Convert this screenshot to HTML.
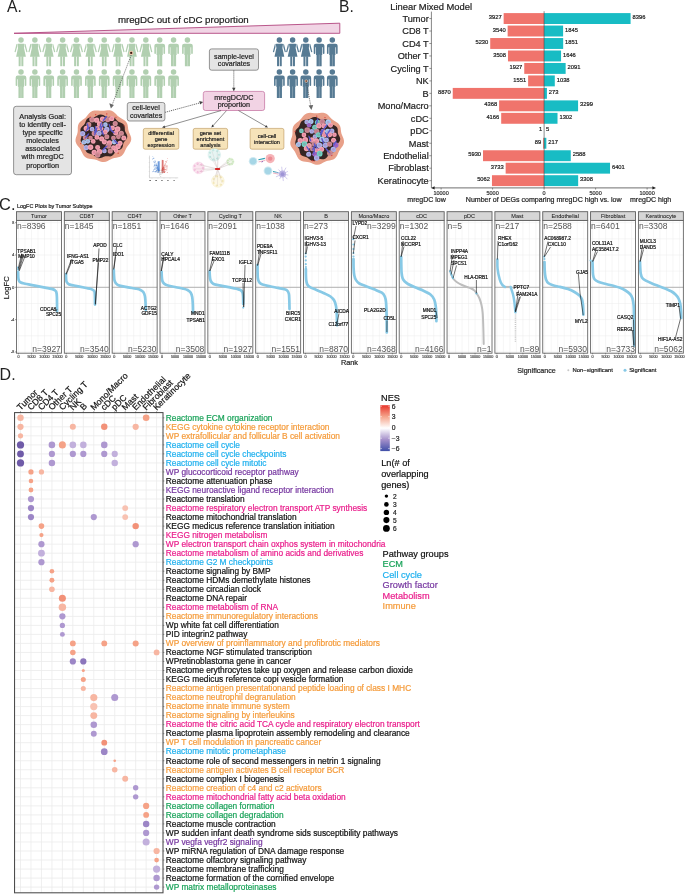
<!DOCTYPE html>
<html><head><meta charset="utf-8"><style>
html,body{margin:0;padding:0;background:#fff;width:685px;height:894px;overflow:hidden}
svg{display:block;will-change:transform}
text{font-family:"Liberation Sans",sans-serif;stroke:currentColor;stroke-width:0.2px}
</style></head><body>
<svg width="685" height="894" viewBox="0 0 685 894" font-family="Liberation Sans, sans-serif">
<defs>
<filter id="soft" x="-20%" y="-20%" width="140%" height="140%"><feGaussianBlur stdDeviation="0.6"/></filter>
<symbol id="fem" overflow="visible">
<circle cx="0" cy="2.75" r="2.75"/>
<path d="M-3.0,6.4 L3.0,6.4 Q3.6,6.4 3.6,7.0 L3.0,10.8 L4.9,19.4 L-4.9,19.4 L-3.0,10.8 L-3.6,7.0 Q-3.6,6.4 -3.0,6.4 Z"/>
<path d="M-3.9,6.5 L-4.6,6.9 L-6.5,14.6 L-5.4,14.9 L-3.9,9.6 Z"/>
<path d="M3.9,6.5 L4.6,6.9 L6.5,14.6 L5.4,14.9 L3.9,9.6 Z"/>
<rect x="-2.35" y="19.0" width="2.0" height="9.9"/>
<rect x="0.35" y="19.0" width="2.0" height="9.9"/>
</symbol>
<symbol id="mal" overflow="visible">
<circle cx="0" cy="2.75" r="2.75"/>
<path d="M-5.35,8.5 Q-5.35,6.4 -3.2,6.4 L3.2,6.4 Q5.35,6.4 5.35,8.5 L5.35,16.0 Q5.35,16.8 4.55,16.8 Q3.75,16.8 3.75,16.0 L3.75,10 L3.1,10 L3.1,17.6 L2.55,17.6 L2.55,28.9 L-2.55,28.9 L-2.55,17.6 L-3.1,17.6 L-3.1,10 L-3.75,10 L-3.75,16.0 Q-3.75,16.8 -4.55,16.8 Q-5.35,16.8 -5.35,16.0 Z"/>
<rect x="-0.22" y="17.2" width="0.44" height="11.8" fill="#fff" fill-opacity="0.55"/>
</symbol>
</defs>
<rect width="685" height="894" fill="#fff"/>
<text x="7.00" y="11.75" font-size="15.6" fill="#222" color="#222" text-anchor="start" style="stroke-width:0">A.</text>
<polygon points="14,33.3 339.8,23.2 339.8,33.3" fill="#f1d5e5" stroke="#b2467f" stroke-width="0.9" stroke-linejoin="round"/>
<text x="117.90" y="23.00" font-size="9.7" fill="#1a1a1a" color="#1a1a1a" text-anchor="start" >mregDC out of cDC proportion</text>
<use href="#fem" x="21.00" y="37.3" fill="#b1cfb0"/>
<use href="#mal" x="21.00" y="69.2" fill="#b1cfb0"/>
<use href="#fem" x="34.87" y="37.3" fill="#b1cfb0"/>
<use href="#mal" x="34.87" y="69.2" fill="#b1cfb0"/>
<use href="#fem" x="48.74" y="37.3" fill="#b1cfb0"/>
<use href="#mal" x="48.74" y="69.2" fill="#b1cfb0"/>
<use href="#fem" x="62.61" y="37.3" fill="#b1cfb0"/>
<use href="#mal" x="62.61" y="69.2" fill="#b1cfb0"/>
<use href="#fem" x="76.48" y="37.3" fill="#b1cfb0"/>
<use href="#mal" x="76.48" y="69.2" fill="#b1cfb0"/>
<use href="#fem" x="90.35" y="37.3" fill="#b1cfb0"/>
<use href="#mal" x="90.35" y="69.2" fill="#b1cfb0"/>
<use href="#fem" x="104.22" y="37.3" fill="#b1cfb0"/>
<use href="#mal" x="104.22" y="69.2" fill="#b1cfb0"/>
<use href="#fem" x="118.09" y="37.3" fill="#b1cfb0"/>
<use href="#mal" x="118.09" y="69.2" fill="#b1cfb0"/>
<use href="#fem" x="131.96" y="37.3" fill="#b1cfb0"/>
<use href="#mal" x="131.96" y="69.2" fill="#b1cfb0"/>
<use href="#fem" x="145.83" y="37.3" fill="#b1cfb0"/>
<use href="#mal" x="145.83" y="69.2" fill="#b1cfb0"/>
<use href="#mal" x="159.70" y="37.3" fill="#b1cfb0"/>
<use href="#mal" x="159.70" y="69.2" fill="#b1cfb0"/>
<use href="#mal" x="173.57" y="37.3" fill="#b1cfb0"/>
<use href="#mal" x="173.57" y="69.2" fill="#b1cfb0"/>
<use href="#mal" x="187.44" y="37.3" fill="#b1cfb0"/>
<use href="#fem" x="279.40" y="37.3" fill="#567a93"/>
<use href="#mal" x="279.40" y="69.2" fill="#567a93"/>
<use href="#fem" x="292.60" y="37.3" fill="#567a93"/>
<use href="#mal" x="292.60" y="69.2" fill="#567a93"/>
<use href="#fem" x="305.80" y="37.3" fill="#567a93"/>
<use href="#mal" x="305.80" y="69.2" fill="#567a93"/>
<use href="#mal" x="319.10" y="37.3" fill="#567a93"/>
<use href="#mal" x="319.10" y="69.2" fill="#567a93"/>
<use href="#mal" x="332.30" y="37.3" fill="#567a93"/>
<use href="#mal" x="332.30" y="69.2" fill="#567a93"/>
<circle cx="131.2" cy="52.9" r="2.2" fill="#f0cbb0"/><circle cx="131.2" cy="52.9" r="1.15" fill="#3e1a10"/>
<circle cx="306.2" cy="81.0" r="1.6" fill="#f0cbb0"/><circle cx="306.2" cy="81.0" r="0.85" fill="#5a2414"/>
<line x1="131.2" y1="55" x2="112.3" y2="104.5" stroke="#444" stroke-width="0.7" stroke-dasharray="1.2,1.0"/>
<polygon points="110.9,108.6 109.3,103.2 113.9,104.9" fill="#666"/>
<line x1="306.5" y1="83" x2="310.8" y2="106" stroke="#444" stroke-width="0.7" stroke-dasharray="1.2,1.0"/>
<polygon points="311.4,110 308.6,105.6 313.2,104.9" fill="#666"/>
<rect x="13.6" y="106.3" width="57.90" height="68.40" rx="2.6" fill="#e4e4e4" stroke="#6a6a6a" stroke-width="0.7"/>
<text x="42.60" y="118.60" font-size="7.3" fill="#222" color="#222" text-anchor="middle" >Analysis Goal:</text>
<text x="42.60" y="126.75" font-size="7.3" fill="#222" color="#222" text-anchor="middle" >to identify cell-</text>
<text x="42.60" y="134.90" font-size="7.3" fill="#222" color="#222" text-anchor="middle" >type specific</text>
<text x="42.60" y="143.05" font-size="7.3" fill="#222" color="#222" text-anchor="middle" >molecules</text>
<text x="42.60" y="151.20" font-size="7.3" fill="#222" color="#222" text-anchor="middle" >associated</text>
<text x="42.60" y="159.35" font-size="7.3" fill="#222" color="#222" text-anchor="middle" >with mregDC</text>
<text x="42.60" y="167.50" font-size="7.3" fill="#222" color="#222" text-anchor="middle" >proportion</text>
<rect x="209.4" y="48.9" width="49.10" height="21.30" rx="2.2" fill="#e4e4e4" stroke="#6a6a6a" stroke-width="0.7"/>
<text x="234.00" y="58.70" font-size="7.1" fill="#222" color="#222" text-anchor="middle" >sample-level</text>
<text x="234.00" y="66.20" font-size="7.1" fill="#222" color="#222" text-anchor="middle" >covariates</text>
<rect x="127.3" y="102.5" width="37.60" height="18.50" rx="2.2" fill="#e4e4e4" stroke="#6a6a6a" stroke-width="0.7"/>
<text x="146.10" y="110.00" font-size="7.1" fill="#222" color="#222" text-anchor="middle" >cell-level</text>
<text x="146.10" y="117.60" font-size="7.1" fill="#222" color="#222" text-anchor="middle" >covariates</text>
<line x1="233.8" y1="70.5" x2="233.8" y2="88.5" stroke="#333" stroke-width="0.75" stroke-dasharray="1.1,0.9"/>
<polygon points="233.8,91.4 232.1,87.8 235.5,87.8" fill="#444"/>
<line x1="165.2" y1="112.3" x2="199.8" y2="102.9" stroke="#333" stroke-width="0.75" stroke-dasharray="1.1,0.9"/>
<polygon points="203.2,102.0 199.2,101.1 200.2,104.6" fill="#444"/>
<rect x="203.3" y="91.4" width="61.30" height="19.10" rx="2.2" fill="#f2d3e4" stroke="#c26c9c" stroke-width="0.7"/>
<text x="233.90" y="99.90" font-size="7.2" fill="#222" color="#222" text-anchor="middle" >mregDC/DC</text>
<text x="233.90" y="107.30" font-size="7.2" fill="#222" color="#222" text-anchor="middle" >proportion</text>
<line x1="221.0" y1="110.6" x2="164.88" y2="126.77" stroke="#333" stroke-width="0.55"/>
<polygon points="162.0,127.6 164.52,125.52 165.24,128.02" fill="#333"/>
<line x1="226.5" y1="110.6" x2="213.30" y2="125.36" stroke="#333" stroke-width="0.55"/>
<polygon points="211.3,127.6 212.33,124.50 214.27,126.23" fill="#333"/>
<line x1="238.5" y1="110.6" x2="265.40" y2="126.10" stroke="#333" stroke-width="0.55"/>
<polygon points="268.0,127.6 264.75,127.23 266.05,124.98" fill="#333"/>
<rect x="143.3" y="128.4" width="35.50" height="20.80" rx="1.8" fill="#f6e3b9" stroke="#b99356" stroke-width="0.6"/>
<text x="161.05" y="134.70" font-size="5.6" fill="#222" color="#222" text-anchor="middle" >differential</text>
<text x="161.05" y="140.70" font-size="5.6" fill="#222" color="#222" text-anchor="middle" >gene</text>
<text x="161.05" y="146.70" font-size="5.6" fill="#222" color="#222" text-anchor="middle" >expression</text>
<rect x="193.2" y="128.4" width="34.40" height="20.80" rx="1.8" fill="#f6e3b9" stroke="#b99356" stroke-width="0.6"/>
<text x="210.40" y="134.70" font-size="5.6" fill="#222" color="#222" text-anchor="middle" >gene set</text>
<text x="210.40" y="140.70" font-size="5.6" fill="#222" color="#222" text-anchor="middle" >enrichment</text>
<text x="210.40" y="146.70" font-size="5.6" fill="#222" color="#222" text-anchor="middle" >analysis</text>
<rect x="250.1" y="128.4" width="33.80" height="20.80" rx="1.8" fill="#f6e3b9" stroke="#b99356" stroke-width="0.6"/>
<text x="267.00" y="137.60" font-size="5.6" fill="#222" color="#222" text-anchor="middle" >cell-cell</text>
<text x="267.00" y="143.60" font-size="5.6" fill="#222" color="#222" text-anchor="middle" >interaction</text>
<g stroke="#9a9a9a" stroke-width="0.35" fill="none"><line x1="149.5" y1="155.6" x2="149.5" y2="177.8"/><line x1="149.3" y1="177.8" x2="178.2" y2="177.8"/></g>
<line x1="148.7" y1="158.0" x2="149.5" y2="158.0" stroke="#aaa" stroke-width="0.3"/>
<line x1="152.0" y1="177.8" x2="152.0" y2="178.6" stroke="#aaa" stroke-width="0.3"/>
<line x1="148.7" y1="162.5" x2="149.5" y2="162.5" stroke="#aaa" stroke-width="0.3"/>
<line x1="158.0" y1="177.8" x2="158.0" y2="178.6" stroke="#aaa" stroke-width="0.3"/>
<line x1="148.7" y1="167.0" x2="149.5" y2="167.0" stroke="#aaa" stroke-width="0.3"/>
<line x1="164.0" y1="177.8" x2="164.0" y2="178.6" stroke="#aaa" stroke-width="0.3"/>
<line x1="148.7" y1="171.5" x2="149.5" y2="171.5" stroke="#aaa" stroke-width="0.3"/>
<line x1="170.0" y1="177.8" x2="170.0" y2="178.6" stroke="#aaa" stroke-width="0.3"/>
<line x1="148.7" y1="176.0" x2="149.5" y2="176.0" stroke="#aaa" stroke-width="0.3"/>
<line x1="176.0" y1="177.8" x2="176.0" y2="178.6" stroke="#aaa" stroke-width="0.3"/>
<circle cx="156.60" cy="168.42" r="0.34" fill="#4a82d0" opacity="0.8"/>
<circle cx="164.16" cy="168.78" r="0.34" fill="#d4504a" opacity="0.8"/>
<circle cx="154.62" cy="165.94" r="0.34" fill="#4a82d0" opacity="0.8"/>
<circle cx="162.56" cy="168.62" r="0.34" fill="#d4504a" opacity="0.8"/>
<circle cx="153.77" cy="169.56" r="0.34" fill="#4a82d0" opacity="0.8"/>
<circle cx="167.28" cy="172.25" r="0.34" fill="#d4504a" opacity="0.8"/>
<circle cx="157.22" cy="169.89" r="0.34" fill="#4a82d0" opacity="0.8"/>
<circle cx="167.15" cy="165.34" r="0.34" fill="#d4504a" opacity="0.8"/>
<circle cx="154.30" cy="162.39" r="0.34" fill="#4a82d0" opacity="0.8"/>
<circle cx="164.32" cy="168.26" r="0.34" fill="#d4504a" opacity="0.8"/>
<circle cx="156.72" cy="169.47" r="0.34" fill="#4a82d0" opacity="0.8"/>
<circle cx="163.08" cy="169.51" r="0.34" fill="#d4504a" opacity="0.8"/>
<circle cx="159.19" cy="172.49" r="0.34" fill="#4a82d0" opacity="0.8"/>
<circle cx="162.86" cy="169.03" r="0.34" fill="#d4504a" opacity="0.8"/>
<circle cx="155.48" cy="161.68" r="0.34" fill="#4a82d0" opacity="0.8"/>
<circle cx="164.37" cy="171.22" r="0.34" fill="#d4504a" opacity="0.8"/>
<circle cx="158.52" cy="171.95" r="0.34" fill="#4a82d0" opacity="0.8"/>
<circle cx="165.53" cy="171.52" r="0.34" fill="#d4504a" opacity="0.8"/>
<circle cx="158.66" cy="170.47" r="0.34" fill="#4a82d0" opacity="0.8"/>
<circle cx="163.22" cy="171.21" r="0.34" fill="#d4504a" opacity="0.8"/>
<circle cx="153.90" cy="162.12" r="0.34" fill="#4a82d0" opacity="0.8"/>
<circle cx="162.67" cy="168.44" r="0.34" fill="#d4504a" opacity="0.8"/>
<circle cx="153.95" cy="158.20" r="0.34" fill="#4a82d0" opacity="0.8"/>
<circle cx="165.74" cy="167.48" r="0.34" fill="#d4504a" opacity="0.8"/>
<circle cx="154.37" cy="168.93" r="0.34" fill="#4a82d0" opacity="0.8"/>
<circle cx="163.25" cy="167.47" r="0.34" fill="#d4504a" opacity="0.8"/>
<circle cx="155.05" cy="163.07" r="0.34" fill="#4a82d0" opacity="0.8"/>
<circle cx="162.87" cy="169.59" r="0.34" fill="#d4504a" opacity="0.8"/>
<circle cx="154.96" cy="164.65" r="0.34" fill="#4a82d0" opacity="0.8"/>
<circle cx="163.60" cy="167.36" r="0.34" fill="#d4504a" opacity="0.8"/>
<circle cx="154.93" cy="162.92" r="0.34" fill="#4a82d0" opacity="0.8"/>
<circle cx="164.56" cy="166.02" r="0.34" fill="#d4504a" opacity="0.8"/>
<circle cx="153.50" cy="166.04" r="0.34" fill="#4a82d0" opacity="0.8"/>
<circle cx="163.45" cy="168.65" r="0.34" fill="#d4504a" opacity="0.8"/>
<circle cx="158.87" cy="170.65" r="0.34" fill="#4a82d0" opacity="0.8"/>
<circle cx="162.19" cy="169.54" r="0.34" fill="#d4504a" opacity="0.8"/>
<circle cx="158.46" cy="171.76" r="0.34" fill="#4a82d0" opacity="0.8"/>
<circle cx="165.95" cy="169.58" r="0.34" fill="#d4504a" opacity="0.8"/>
<circle cx="154.87" cy="171.84" r="0.34" fill="#4a82d0" opacity="0.8"/>
<circle cx="163.23" cy="168.97" r="0.34" fill="#d4504a" opacity="0.8"/>
<circle cx="152.84" cy="171.87" r="0.34" fill="#4a82d0" opacity="0.8"/>
<circle cx="163.23" cy="168.71" r="0.34" fill="#d4504a" opacity="0.8"/>
<circle cx="156.94" cy="167.22" r="0.34" fill="#4a82d0" opacity="0.8"/>
<circle cx="162.81" cy="167.89" r="0.34" fill="#d4504a" opacity="0.8"/>
<circle cx="157.01" cy="171.33" r="0.34" fill="#4a82d0" opacity="0.8"/>
<circle cx="164.93" cy="171.69" r="0.34" fill="#d4504a" opacity="0.8"/>
<circle cx="152.57" cy="159.42" r="0.34" fill="#4a82d0" opacity="0.8"/>
<circle cx="166.71" cy="161.19" r="0.34" fill="#d4504a" opacity="0.8"/>
<circle cx="156.92" cy="165.76" r="0.34" fill="#4a82d0" opacity="0.8"/>
<circle cx="162.40" cy="172.43" r="0.34" fill="#d4504a" opacity="0.8"/>
<circle cx="157.39" cy="169.85" r="0.34" fill="#4a82d0" opacity="0.8"/>
<circle cx="167.34" cy="158.32" r="0.34" fill="#d4504a" opacity="0.8"/>
<circle cx="157.37" cy="172.27" r="0.34" fill="#4a82d0" opacity="0.8"/>
<circle cx="163.46" cy="169.51" r="0.34" fill="#d4504a" opacity="0.8"/>
<circle cx="155.27" cy="172.49" r="0.34" fill="#4a82d0" opacity="0.8"/>
<circle cx="163.97" cy="170.74" r="0.34" fill="#d4504a" opacity="0.8"/>
<circle cx="158.01" cy="170.76" r="0.34" fill="#4a82d0" opacity="0.8"/>
<circle cx="162.32" cy="170.42" r="0.34" fill="#d4504a" opacity="0.8"/>
<circle cx="158.53" cy="171.96" r="0.34" fill="#4a82d0" opacity="0.8"/>
<circle cx="162.73" cy="171.91" r="0.34" fill="#d4504a" opacity="0.8"/>
<circle cx="157.33" cy="168.09" r="0.34" fill="#4a82d0" opacity="0.8"/>
<circle cx="163.53" cy="166.94" r="0.34" fill="#d4504a" opacity="0.8"/>
<circle cx="159.11" cy="172.11" r="0.34" fill="#4a82d0" opacity="0.8"/>
<circle cx="164.55" cy="170.26" r="0.34" fill="#d4504a" opacity="0.8"/>
<circle cx="156.03" cy="170.97" r="0.34" fill="#4a82d0" opacity="0.8"/>
<circle cx="162.91" cy="167.96" r="0.34" fill="#d4504a" opacity="0.8"/>
<circle cx="156.63" cy="165.65" r="0.34" fill="#4a82d0" opacity="0.8"/>
<circle cx="164.21" cy="169.72" r="0.34" fill="#d4504a" opacity="0.8"/>
<circle cx="154.97" cy="160.46" r="0.34" fill="#4a82d0" opacity="0.8"/>
<circle cx="162.95" cy="168.23" r="0.34" fill="#d4504a" opacity="0.8"/>
<circle cx="158.56" cy="171.10" r="0.34" fill="#4a82d0" opacity="0.8"/>
<circle cx="162.40" cy="170.21" r="0.34" fill="#d4504a" opacity="0.8"/>
<circle cx="154.84" cy="165.00" r="0.34" fill="#4a82d0" opacity="0.8"/>
<circle cx="162.14" cy="172.12" r="0.34" fill="#d4504a" opacity="0.8"/>
<circle cx="156.85" cy="167.28" r="0.34" fill="#4a82d0" opacity="0.8"/>
<circle cx="164.17" cy="171.32" r="0.34" fill="#d4504a" opacity="0.8"/>
<circle cx="157.57" cy="172.19" r="0.34" fill="#4a82d0" opacity="0.8"/>
<circle cx="165.70" cy="166.16" r="0.34" fill="#d4504a" opacity="0.8"/>
<circle cx="154.85" cy="164.94" r="0.34" fill="#4a82d0" opacity="0.8"/>
<circle cx="164.17" cy="167.53" r="0.34" fill="#d4504a" opacity="0.8"/>
<circle cx="158.67" cy="170.66" r="0.34" fill="#4a82d0" opacity="0.8"/>
<circle cx="166.87" cy="170.65" r="0.34" fill="#d4504a" opacity="0.8"/>
<circle cx="157.58" cy="169.84" r="0.34" fill="#4a82d0" opacity="0.8"/>
<circle cx="162.47" cy="168.29" r="0.34" fill="#d4504a" opacity="0.8"/>
<circle cx="156.56" cy="163.48" r="0.34" fill="#4a82d0" opacity="0.8"/>
<circle cx="165.10" cy="163.51" r="0.34" fill="#d4504a" opacity="0.8"/>
<circle cx="157.38" cy="168.58" r="0.34" fill="#4a82d0" opacity="0.8"/>
<circle cx="163.52" cy="171.42" r="0.34" fill="#d4504a" opacity="0.8"/>
<circle cx="157.56" cy="167.33" r="0.34" fill="#4a82d0" opacity="0.8"/>
<circle cx="165.75" cy="161.24" r="0.34" fill="#d4504a" opacity="0.8"/>
<circle cx="157.58" cy="167.47" r="0.34" fill="#4a82d0" opacity="0.8"/>
<circle cx="164.74" cy="169.78" r="0.34" fill="#d4504a" opacity="0.8"/>
<circle cx="157.16" cy="170.73" r="0.34" fill="#4a82d0" opacity="0.8"/>
<circle cx="162.44" cy="172.10" r="0.34" fill="#d4504a" opacity="0.8"/>
<circle cx="158.49" cy="171.43" r="0.34" fill="#4a82d0" opacity="0.8"/>
<circle cx="164.41" cy="169.62" r="0.34" fill="#d4504a" opacity="0.8"/>
<circle cx="156.12" cy="168.05" r="0.34" fill="#4a82d0" opacity="0.8"/>
<circle cx="162.64" cy="172.26" r="0.34" fill="#d4504a" opacity="0.8"/>
<circle cx="157.55" cy="167.07" r="0.34" fill="#4a82d0" opacity="0.8"/>
<circle cx="162.71" cy="171.05" r="0.34" fill="#d4504a" opacity="0.8"/>
<circle cx="155.06" cy="171.21" r="0.34" fill="#4a82d0" opacity="0.8"/>
<circle cx="162.16" cy="171.26" r="0.34" fill="#d4504a" opacity="0.8"/>
<circle cx="155.75" cy="171.50" r="0.34" fill="#4a82d0" opacity="0.8"/>
<circle cx="164.68" cy="164.28" r="0.34" fill="#d4504a" opacity="0.8"/>
<circle cx="156.88" cy="170.64" r="0.34" fill="#4a82d0" opacity="0.8"/>
<circle cx="166.93" cy="169.70" r="0.34" fill="#d4504a" opacity="0.8"/>
<circle cx="158.02" cy="168.20" r="0.34" fill="#4a82d0" opacity="0.8"/>
<circle cx="162.49" cy="168.78" r="0.34" fill="#d4504a" opacity="0.8"/>
<circle cx="156.91" cy="170.16" r="0.34" fill="#4a82d0" opacity="0.8"/>
<circle cx="163.10" cy="172.22" r="0.34" fill="#d4504a" opacity="0.8"/>
<circle cx="158.62" cy="169.14" r="0.34" fill="#4a82d0" opacity="0.8"/>
<circle cx="163.95" cy="167.60" r="0.34" fill="#d4504a" opacity="0.8"/>
<circle cx="157.56" cy="169.17" r="0.34" fill="#4a82d0" opacity="0.8"/>
<circle cx="163.59" cy="168.00" r="0.34" fill="#d4504a" opacity="0.8"/>
<circle cx="158.15" cy="172.03" r="0.34" fill="#4a82d0" opacity="0.8"/>
<circle cx="162.47" cy="172.38" r="0.34" fill="#d4504a" opacity="0.8"/>
<circle cx="157.03" cy="166.31" r="0.34" fill="#4a82d0" opacity="0.8"/>
<circle cx="163.64" cy="169.68" r="0.34" fill="#d4504a" opacity="0.8"/>
<circle cx="158.81" cy="170.82" r="0.34" fill="#4a82d0" opacity="0.8"/>
<circle cx="162.64" cy="170.66" r="0.34" fill="#d4504a" opacity="0.8"/>
<circle cx="157.63" cy="166.54" r="0.34" fill="#4a82d0" opacity="0.8"/>
<circle cx="164.62" cy="172.15" r="0.34" fill="#d4504a" opacity="0.8"/>
<circle cx="154.96" cy="166.20" r="0.34" fill="#4a82d0" opacity="0.8"/>
<circle cx="164.51" cy="171.04" r="0.34" fill="#d4504a" opacity="0.8"/>
<circle cx="156.30" cy="166.38" r="0.34" fill="#4a82d0" opacity="0.8"/>
<circle cx="163.18" cy="172.06" r="0.34" fill="#d4504a" opacity="0.8"/>
<circle cx="157.84" cy="167.21" r="0.34" fill="#4a82d0" opacity="0.8"/>
<circle cx="165.33" cy="169.18" r="0.34" fill="#d4504a" opacity="0.8"/>
<circle cx="155.53" cy="168.46" r="0.34" fill="#4a82d0" opacity="0.8"/>
<circle cx="162.94" cy="168.24" r="0.34" fill="#d4504a" opacity="0.8"/>
<circle cx="155.07" cy="162.66" r="0.34" fill="#4a82d0" opacity="0.8"/>
<circle cx="164.20" cy="167.57" r="0.34" fill="#d4504a" opacity="0.8"/>
<circle cx="156.60" cy="165.54" r="0.34" fill="#4a82d0" opacity="0.8"/>
<circle cx="163.36" cy="170.40" r="0.34" fill="#d4504a" opacity="0.8"/>
<circle cx="158.57" cy="170.69" r="0.34" fill="#4a82d0" opacity="0.8"/>
<circle cx="165.58" cy="169.77" r="0.34" fill="#d4504a" opacity="0.8"/>
<circle cx="158.47" cy="169.67" r="0.34" fill="#4a82d0" opacity="0.8"/>
<circle cx="162.48" cy="170.05" r="0.34" fill="#d4504a" opacity="0.8"/>
<circle cx="158.36" cy="168.78" r="0.34" fill="#4a82d0" opacity="0.8"/>
<circle cx="162.70" cy="168.87" r="0.34" fill="#d4504a" opacity="0.8"/>
<circle cx="158.44" cy="169.69" r="0.34" fill="#4a82d0" opacity="0.8"/>
<circle cx="166.28" cy="165.15" r="0.34" fill="#d4504a" opacity="0.8"/>
<circle cx="152.73" cy="158.24" r="0.34" fill="#4a82d0" opacity="0.8"/>
<circle cx="161.99" cy="172.40" r="0.34" fill="#d4504a" opacity="0.8"/>
<circle cx="156.65" cy="170.42" r="0.34" fill="#4a82d0" opacity="0.8"/>
<circle cx="162.86" cy="168.21" r="0.34" fill="#d4504a" opacity="0.8"/>
<circle cx="153.85" cy="157.98" r="0.34" fill="#4a82d0" opacity="0.8"/>
<circle cx="163.66" cy="169.47" r="0.34" fill="#d4504a" opacity="0.8"/>
<circle cx="154.74" cy="161.80" r="0.34" fill="#4a82d0" opacity="0.8"/>
<circle cx="161.69" cy="172.31" r="0.34" fill="#d4504a" opacity="0.8"/>
<circle cx="153.30" cy="171.71" r="0.34" fill="#4a82d0" opacity="0.8"/>
<circle cx="162.77" cy="169.44" r="0.34" fill="#d4504a" opacity="0.8"/>
<circle cx="156.76" cy="167.68" r="0.34" fill="#4a82d0" opacity="0.8"/>
<circle cx="167.66" cy="167.94" r="0.34" fill="#d4504a" opacity="0.8"/>
<circle cx="154.66" cy="165.13" r="0.34" fill="#4a82d0" opacity="0.8"/>
<circle cx="164.21" cy="165.85" r="0.34" fill="#d4504a" opacity="0.8"/>
<circle cx="156.92" cy="164.13" r="0.34" fill="#4a82d0" opacity="0.8"/>
<circle cx="162.86" cy="171.26" r="0.34" fill="#d4504a" opacity="0.8"/>
<circle cx="157.36" cy="168.28" r="0.34" fill="#4a82d0" opacity="0.8"/>
<circle cx="164.10" cy="172.38" r="0.34" fill="#d4504a" opacity="0.8"/>
<circle cx="155.25" cy="171.42" r="0.34" fill="#4a82d0" opacity="0.8"/>
<circle cx="162.68" cy="171.68" r="0.34" fill="#d4504a" opacity="0.8"/>
<circle cx="158.67" cy="172.00" r="0.34" fill="#4a82d0" opacity="0.8"/>
<circle cx="162.73" cy="171.44" r="0.34" fill="#d4504a" opacity="0.8"/>
<circle cx="157.67" cy="166.89" r="0.34" fill="#4a82d0" opacity="0.8"/>
<circle cx="164.00" cy="165.05" r="0.34" fill="#d4504a" opacity="0.8"/>
<circle cx="157.19" cy="169.88" r="0.34" fill="#4a82d0" opacity="0.8"/>
<circle cx="162.00" cy="171.51" r="0.34" fill="#d4504a" opacity="0.8"/>
<circle cx="157.47" cy="169.60" r="0.34" fill="#4a82d0" opacity="0.8"/>
<circle cx="164.58" cy="172.50" r="0.34" fill="#d4504a" opacity="0.8"/>
<circle cx="157.95" cy="171.01" r="0.34" fill="#4a82d0" opacity="0.8"/>
<circle cx="167.42" cy="166.78" r="0.34" fill="#d4504a" opacity="0.8"/>
<circle cx="154.83" cy="165.22" r="0.34" fill="#4a82d0" opacity="0.8"/>
<circle cx="165.41" cy="165.57" r="0.34" fill="#d4504a" opacity="0.8"/>
<circle cx="155.08" cy="171.34" r="0.34" fill="#4a82d0" opacity="0.8"/>
<circle cx="163.95" cy="172.27" r="0.34" fill="#d4504a" opacity="0.8"/>
<circle cx="159.17" cy="171.33" r="0.34" fill="#4a82d0" opacity="0.8"/>
<circle cx="166.78" cy="167.13" r="0.34" fill="#d4504a" opacity="0.8"/>
<circle cx="152.89" cy="171.33" r="0.34" fill="#4a82d0" opacity="0.8"/>
<circle cx="164.07" cy="166.27" r="0.34" fill="#d4504a" opacity="0.8"/>
<circle cx="157.48" cy="165.63" r="0.34" fill="#4a82d0" opacity="0.8"/>
<circle cx="164.39" cy="168.68" r="0.34" fill="#d4504a" opacity="0.8"/>
<circle cx="155.92" cy="165.02" r="0.34" fill="#4a82d0" opacity="0.8"/>
<circle cx="163.79" cy="167.82" r="0.34" fill="#d4504a" opacity="0.8"/>
<circle cx="155.22" cy="161.14" r="0.34" fill="#4a82d0" opacity="0.8"/>
<circle cx="167.15" cy="160.52" r="0.34" fill="#d4504a" opacity="0.8"/>
<circle cx="156.13" cy="171.46" r="0.34" fill="#4a82d0" opacity="0.8"/>
<circle cx="167.17" cy="172.34" r="0.34" fill="#d4504a" opacity="0.8"/>
<circle cx="153.42" cy="171.00" r="0.34" fill="#4a82d0" opacity="0.8"/>
<circle cx="163.90" cy="172.30" r="0.34" fill="#d4504a" opacity="0.8"/>
<circle cx="156.88" cy="171.98" r="0.34" fill="#4a82d0" opacity="0.8"/>
<circle cx="164.28" cy="172.34" r="0.34" fill="#d4504a" opacity="0.8"/>
<circle cx="157.25" cy="165.96" r="0.34" fill="#4a82d0" opacity="0.8"/>
<circle cx="163.89" cy="166.39" r="0.34" fill="#d4504a" opacity="0.8"/>
<circle cx="156.74" cy="165.23" r="0.34" fill="#4a82d0" opacity="0.8"/>
<circle cx="163.05" cy="169.53" r="0.34" fill="#d4504a" opacity="0.8"/>
<circle cx="157.23" cy="168.06" r="0.34" fill="#4a82d0" opacity="0.8"/>
<circle cx="164.07" cy="172.48" r="0.34" fill="#d4504a" opacity="0.8"/>
<circle cx="157.58" cy="168.00" r="0.34" fill="#4a82d0" opacity="0.8"/>
<circle cx="162.37" cy="171.77" r="0.34" fill="#d4504a" opacity="0.8"/>
<circle cx="155.90" cy="164.80" r="0.34" fill="#4a82d0" opacity="0.8"/>
<circle cx="163.72" cy="169.85" r="0.34" fill="#d4504a" opacity="0.8"/>
<circle cx="157.76" cy="167.89" r="0.34" fill="#4a82d0" opacity="0.8"/>
<circle cx="162.20" cy="172.28" r="0.34" fill="#d4504a" opacity="0.8"/>
<circle cx="152.87" cy="156.57" r="0.34" fill="#4a82d0" opacity="0.8"/>
<circle cx="164.07" cy="169.48" r="0.34" fill="#d4504a" opacity="0.8"/>
<circle cx="156.60" cy="164.95" r="0.34" fill="#4a82d0" opacity="0.8"/>
<circle cx="163.23" cy="170.08" r="0.34" fill="#d4504a" opacity="0.8"/>
<circle cx="155.70" cy="167.09" r="0.34" fill="#4a82d0" opacity="0.8"/>
<circle cx="164.94" cy="170.20" r="0.34" fill="#d4504a" opacity="0.8"/>
<circle cx="153.66" cy="158.51" r="0.34" fill="#4a82d0" opacity="0.8"/>
<circle cx="163.21" cy="171.14" r="0.34" fill="#d4504a" opacity="0.8"/>
<circle cx="156.37" cy="165.34" r="0.34" fill="#4a82d0" opacity="0.8"/>
<circle cx="164.89" cy="169.49" r="0.34" fill="#d4504a" opacity="0.8"/>
<circle cx="155.72" cy="167.50" r="0.34" fill="#4a82d0" opacity="0.8"/>
<circle cx="162.11" cy="170.69" r="0.34" fill="#d4504a" opacity="0.8"/>
<circle cx="153.47" cy="170.59" r="0.34" fill="#4a82d0" opacity="0.8"/>
<circle cx="166.54" cy="166.75" r="0.34" fill="#d4504a" opacity="0.8"/>
<circle cx="157.75" cy="167.98" r="0.34" fill="#4a82d0" opacity="0.8"/>
<circle cx="166.72" cy="162.00" r="0.34" fill="#d4504a" opacity="0.8"/>
<circle cx="153.69" cy="161.57" r="0.34" fill="#4a82d0" opacity="0.8"/>
<circle cx="162.87" cy="168.77" r="0.34" fill="#d4504a" opacity="0.8"/>
<circle cx="155.70" cy="169.60" r="0.34" fill="#4a82d0" opacity="0.8"/>
<circle cx="166.28" cy="168.87" r="0.34" fill="#d4504a" opacity="0.8"/>
<circle cx="158.90" cy="172.26" r="0.34" fill="#4a82d0" opacity="0.8"/>
<circle cx="164.13" cy="170.95" r="0.34" fill="#d4504a" opacity="0.8"/>
<circle cx="155.78" cy="165.78" r="0.34" fill="#4a82d0" opacity="0.8"/>
<circle cx="162.20" cy="169.96" r="0.34" fill="#d4504a" opacity="0.8"/>
<circle cx="155.76" cy="165.83" r="0.34" fill="#4a82d0" opacity="0.8"/>
<circle cx="164.54" cy="165.68" r="0.34" fill="#d4504a" opacity="0.8"/>
<circle cx="158.31" cy="170.10" r="0.34" fill="#4a82d0" opacity="0.8"/>
<circle cx="163.81" cy="167.13" r="0.34" fill="#d4504a" opacity="0.8"/>
<circle cx="158.20" cy="169.37" r="0.34" fill="#4a82d0" opacity="0.8"/>
<circle cx="163.91" cy="169.30" r="0.34" fill="#d4504a" opacity="0.8"/>
<circle cx="159.04" cy="171.28" r="0.34" fill="#4a82d0" opacity="0.8"/>
<circle cx="166.92" cy="166.32" r="0.34" fill="#d4504a" opacity="0.8"/>
<circle cx="153.73" cy="158.14" r="0.34" fill="#4a82d0" opacity="0.8"/>
<circle cx="162.35" cy="169.44" r="0.34" fill="#d4504a" opacity="0.8"/>
<circle cx="154.28" cy="168.88" r="0.34" fill="#4a82d0" opacity="0.8"/>
<circle cx="165.48" cy="164.43" r="0.34" fill="#d4504a" opacity="0.8"/>
<circle cx="156.67" cy="170.53" r="0.34" fill="#4a82d0" opacity="0.8"/>
<circle cx="164.87" cy="172.21" r="0.34" fill="#d4504a" opacity="0.8"/>
<circle cx="156.72" cy="168.46" r="0.34" fill="#4a82d0" opacity="0.8"/>
<circle cx="162.97" cy="172.07" r="0.34" fill="#d4504a" opacity="0.8"/>
<circle cx="158.45" cy="170.86" r="0.34" fill="#4a82d0" opacity="0.8"/>
<circle cx="162.86" cy="171.81" r="0.34" fill="#d4504a" opacity="0.8"/>
<circle cx="158.84" cy="171.21" r="0.34" fill="#4a82d0" opacity="0.8"/>
<circle cx="162.97" cy="171.50" r="0.34" fill="#d4504a" opacity="0.8"/>
<circle cx="156.31" cy="164.21" r="0.34" fill="#4a82d0" opacity="0.8"/>
<circle cx="161.73" cy="170.90" r="0.34" fill="#d4504a" opacity="0.8"/>
<circle cx="154.58" cy="164.98" r="0.34" fill="#4a82d0" opacity="0.8"/>
<circle cx="161.89" cy="169.92" r="0.34" fill="#d4504a" opacity="0.8"/>
<circle cx="154.08" cy="167.26" r="0.34" fill="#4a82d0" opacity="0.8"/>
<circle cx="165.73" cy="161.84" r="0.34" fill="#d4504a" opacity="0.8"/>
<circle cx="156.79" cy="171.81" r="0.34" fill="#4a82d0" opacity="0.8"/>
<circle cx="166.15" cy="162.19" r="0.34" fill="#d4504a" opacity="0.8"/>
<circle cx="155.00" cy="168.96" r="0.34" fill="#4a82d0" opacity="0.8"/>
<circle cx="165.32" cy="163.81" r="0.34" fill="#d4504a" opacity="0.8"/>
<circle cx="154.33" cy="169.18" r="0.34" fill="#4a82d0" opacity="0.8"/>
<circle cx="163.70" cy="171.28" r="0.34" fill="#d4504a" opacity="0.8"/>
<circle cx="163.17" cy="171.41" r="0.35" fill="#b0b0b0" opacity="0.85"/>
<circle cx="160.89" cy="176.63" r="0.35" fill="#b0b0b0" opacity="0.85"/>
<circle cx="160.49" cy="170.38" r="0.35" fill="#b0b0b0" opacity="0.85"/>
<circle cx="162.47" cy="171.77" r="0.35" fill="#b0b0b0" opacity="0.85"/>
<circle cx="160.77" cy="172.88" r="0.35" fill="#b0b0b0" opacity="0.85"/>
<circle cx="161.58" cy="170.52" r="0.35" fill="#b0b0b0" opacity="0.85"/>
<circle cx="159.80" cy="175.27" r="0.35" fill="#b0b0b0" opacity="0.85"/>
<circle cx="161.92" cy="173.65" r="0.35" fill="#b0b0b0" opacity="0.85"/>
<circle cx="158.48" cy="169.83" r="0.35" fill="#b0b0b0" opacity="0.85"/>
<circle cx="159.50" cy="170.71" r="0.35" fill="#b0b0b0" opacity="0.85"/>
<circle cx="162.89" cy="172.89" r="0.35" fill="#b0b0b0" opacity="0.85"/>
<circle cx="159.15" cy="173.04" r="0.35" fill="#b0b0b0" opacity="0.85"/>
<circle cx="158.01" cy="170.79" r="0.35" fill="#b0b0b0" opacity="0.85"/>
<circle cx="161.94" cy="169.33" r="0.35" fill="#b0b0b0" opacity="0.85"/>
<circle cx="160.48" cy="172.48" r="0.35" fill="#b0b0b0" opacity="0.85"/>
<circle cx="162.82" cy="171.08" r="0.35" fill="#b0b0b0" opacity="0.85"/>
<circle cx="162.39" cy="172.04" r="0.35" fill="#b0b0b0" opacity="0.85"/>
<circle cx="163.18" cy="169.27" r="0.35" fill="#b0b0b0" opacity="0.85"/>
<circle cx="162.62" cy="170.27" r="0.35" fill="#b0b0b0" opacity="0.85"/>
<circle cx="160.87" cy="172.97" r="0.35" fill="#b0b0b0" opacity="0.85"/>
<circle cx="159.43" cy="171.14" r="0.35" fill="#b0b0b0" opacity="0.85"/>
<circle cx="157.97" cy="171.10" r="0.35" fill="#b0b0b0" opacity="0.85"/>
<circle cx="160.40" cy="174.58" r="0.35" fill="#b0b0b0" opacity="0.85"/>
<circle cx="159.73" cy="174.34" r="0.35" fill="#b0b0b0" opacity="0.85"/>
<circle cx="158.16" cy="171.85" r="0.35" fill="#b0b0b0" opacity="0.85"/>
<circle cx="160.36" cy="176.72" r="0.35" fill="#b0b0b0" opacity="0.85"/>
<circle cx="157.58" cy="171.71" r="0.35" fill="#b0b0b0" opacity="0.85"/>
<circle cx="161.90" cy="170.52" r="0.35" fill="#b0b0b0" opacity="0.85"/>
<circle cx="161.00" cy="172.39" r="0.35" fill="#b0b0b0" opacity="0.85"/>
<circle cx="162.46" cy="170.26" r="0.35" fill="#b0b0b0" opacity="0.85"/>
<circle cx="161.32" cy="170.97" r="0.35" fill="#b0b0b0" opacity="0.85"/>
<circle cx="159.83" cy="173.09" r="0.35" fill="#b0b0b0" opacity="0.85"/>
<circle cx="159.35" cy="171.37" r="0.35" fill="#b0b0b0" opacity="0.85"/>
<circle cx="159.93" cy="174.17" r="0.35" fill="#b0b0b0" opacity="0.85"/>
<circle cx="159.09" cy="170.20" r="0.35" fill="#b0b0b0" opacity="0.85"/>
<circle cx="162.03" cy="171.30" r="0.35" fill="#b0b0b0" opacity="0.85"/>
<circle cx="161.99" cy="171.32" r="0.35" fill="#b0b0b0" opacity="0.85"/>
<circle cx="162.63" cy="169.28" r="0.35" fill="#b0b0b0" opacity="0.85"/>
<circle cx="158.37" cy="169.30" r="0.35" fill="#b0b0b0" opacity="0.85"/>
<circle cx="161.70" cy="174.52" r="0.35" fill="#b0b0b0" opacity="0.85"/>
<circle cx="158.62" cy="171.92" r="0.35" fill="#b0b0b0" opacity="0.85"/>
<circle cx="162.69" cy="173.54" r="0.35" fill="#b0b0b0" opacity="0.85"/>
<circle cx="158.06" cy="170.43" r="0.35" fill="#b0b0b0" opacity="0.85"/>
<circle cx="158.47" cy="169.55" r="0.35" fill="#b0b0b0" opacity="0.85"/>
<circle cx="160.02" cy="169.12" r="0.35" fill="#b0b0b0" opacity="0.85"/>
<circle cx="163.21" cy="172.13" r="0.35" fill="#b0b0b0" opacity="0.85"/>
<circle cx="160.67" cy="174.00" r="0.35" fill="#b0b0b0" opacity="0.85"/>
<path d="M157.6,161.5 L159.6,161.0 L159.9,171.0 L157.9,171.0 Z" fill="#3f7bd0" opacity="0.75"/>
<path d="M161.8,159.8 L163.6,160.3 L163.4,171.0 L161.6,171.0 Z" fill="#d24a45" opacity="0.75"/>
<text x="150.0" y="181.2" font-size="1.6" fill="#999" text-anchor="middle">-4</text>
<text x="156.0" y="181.2" font-size="1.6" fill="#999" text-anchor="middle">-2</text>
<text x="162.0" y="181.2" font-size="1.6" fill="#999" text-anchor="middle">0</text>
<text x="168.0" y="181.2" font-size="1.6" fill="#999" text-anchor="middle">2</text>
<text x="174.0" y="181.2" font-size="1.6" fill="#999" text-anchor="middle">4</text>
<circle cx="198.6" cy="167.9" r="5.8" fill="#fbe6f0" stroke="#e78cc0" stroke-width="0.3" stroke-dasharray="0.6,0.5"/>
<circle cx="214.3" cy="154.8" r="6.3" fill="#e6f5f3" stroke="#8ccfc8" stroke-width="0.3" stroke-dasharray="0.6,0.5"/>
<circle cx="217.9" cy="181.0" r="6.3" fill="#fdf8e6" stroke="#e3cf7a" stroke-width="0.3" stroke-dasharray="0.6,0.5"/>
<circle cx="230.3" cy="161.7" r="3.6" fill="#f1f9ec" stroke="#a6d690" stroke-width="0.3" stroke-dasharray="0.6,0.5"/>
<g stroke="#b8a8a8" stroke-width="0.22">
<line x1="217.6" y1="169.0" x2="202.34" y2="169.48"/>
<line x1="217.6" y1="169.0" x2="198.25" y2="171.95"/>
<line x1="217.6" y1="169.0" x2="194.65" y2="168.82"/>
<line x1="217.6" y1="169.0" x2="196.50" y2="164.42"/>
<line x1="217.6" y1="169.0" x2="201.26" y2="164.83"/>
<line x1="217.6" y1="169.0" x2="218.36" y2="156.52"/>
<line x1="217.6" y1="169.0" x2="213.92" y2="159.19"/>
<line x1="217.6" y1="169.0" x2="210.00" y2="155.80"/>
<line x1="217.6" y1="169.0" x2="212.02" y2="151.02"/>
<line x1="217.6" y1="169.0" x2="217.19" y2="151.47"/>
<line x1="217.6" y1="169.0" x2="221.96" y2="182.72"/>
<line x1="217.6" y1="169.0" x2="217.52" y2="185.39"/>
<line x1="217.6" y1="169.0" x2="213.60" y2="182.00"/>
<line x1="217.6" y1="169.0" x2="215.62" y2="177.22"/>
<line x1="217.6" y1="169.0" x2="220.79" y2="177.67"/>
<line x1="217.6" y1="169.0" x2="232.62" y2="162.68"/>
<line x1="217.6" y1="169.0" x2="230.08" y2="164.21"/>
<line x1="217.6" y1="169.0" x2="227.85" y2="162.27"/>
<line x1="217.6" y1="169.0" x2="229.00" y2="159.54"/>
<line x1="217.6" y1="169.0" x2="231.95" y2="159.80"/>
</g>
<circle cx="202.95" cy="167.90" r="0.7" fill="none" stroke="#e78cc0" stroke-width="0.4"/>
<circle cx="201.31" cy="171.30" r="0.7" fill="none" stroke="#e78cc0" stroke-width="0.4"/>
<circle cx="197.63" cy="172.14" r="0.7" fill="none" stroke="#e78cc0" stroke-width="0.4"/>
<circle cx="194.68" cy="169.79" r="0.7" fill="none" stroke="#e78cc0" stroke-width="0.4"/>
<circle cx="194.68" cy="166.01" r="0.7" fill="none" stroke="#e78cc0" stroke-width="0.4"/>
<circle cx="197.63" cy="163.66" r="0.7" fill="none" stroke="#e78cc0" stroke-width="0.4"/>
<circle cx="201.31" cy="164.50" r="0.7" fill="none" stroke="#e78cc0" stroke-width="0.4"/>
<circle cx="219.03" cy="154.80" r="0.7" fill="none" stroke="#8ccfc8" stroke-width="0.4"/>
<circle cx="217.25" cy="158.49" r="0.7" fill="none" stroke="#8ccfc8" stroke-width="0.4"/>
<circle cx="213.25" cy="159.41" r="0.7" fill="none" stroke="#8ccfc8" stroke-width="0.4"/>
<circle cx="210.04" cy="156.85" r="0.7" fill="none" stroke="#8ccfc8" stroke-width="0.4"/>
<circle cx="210.04" cy="152.75" r="0.7" fill="none" stroke="#8ccfc8" stroke-width="0.4"/>
<circle cx="213.25" cy="150.19" r="0.7" fill="none" stroke="#8ccfc8" stroke-width="0.4"/>
<circle cx="217.25" cy="151.11" r="0.7" fill="none" stroke="#8ccfc8" stroke-width="0.4"/>
<circle cx="222.62" cy="181.00" r="0.7" fill="none" stroke="#e3cf7a" stroke-width="0.4"/>
<circle cx="220.85" cy="184.69" r="0.7" fill="none" stroke="#e3cf7a" stroke-width="0.4"/>
<circle cx="216.85" cy="185.61" r="0.7" fill="none" stroke="#e3cf7a" stroke-width="0.4"/>
<circle cx="213.64" cy="183.05" r="0.7" fill="none" stroke="#e3cf7a" stroke-width="0.4"/>
<circle cx="213.64" cy="178.95" r="0.7" fill="none" stroke="#e3cf7a" stroke-width="0.4"/>
<circle cx="216.85" cy="176.39" r="0.7" fill="none" stroke="#e3cf7a" stroke-width="0.4"/>
<circle cx="220.85" cy="177.31" r="0.7" fill="none" stroke="#e3cf7a" stroke-width="0.4"/>
<circle cx="233.00" cy="161.70" r="0.7" fill="none" stroke="#a6d690" stroke-width="0.4"/>
<circle cx="231.98" cy="163.81" r="0.7" fill="none" stroke="#a6d690" stroke-width="0.4"/>
<circle cx="229.70" cy="164.33" r="0.7" fill="none" stroke="#a6d690" stroke-width="0.4"/>
<circle cx="227.87" cy="162.87" r="0.7" fill="none" stroke="#a6d690" stroke-width="0.4"/>
<circle cx="227.87" cy="160.53" r="0.7" fill="none" stroke="#a6d690" stroke-width="0.4"/>
<circle cx="229.70" cy="159.07" r="0.7" fill="none" stroke="#a6d690" stroke-width="0.4"/>
<circle cx="231.98" cy="159.59" r="0.7" fill="none" stroke="#a6d690" stroke-width="0.4"/>
<rect x="215.0" y="168.0" width="5.2" height="2.0" rx="0.8" fill="#d42a2a"/>
<circle cx="253.1" cy="161.2" r="4.3" fill="#cfe9f1"/><circle cx="253.1" cy="161.2" r="3.3" fill="#a6d6e6"/>
<circle cx="270.2" cy="158.6" r="4.6" fill="#f6b4b8"/><circle cx="270.2" cy="158.6" r="2.2" fill="#ec8c94"/>
<path d="M258.4,159.8 L264.9,158.4" stroke="#2f9fb3" stroke-width="1.1"/><path d="M258.6,161.9 L265.4,160.4" stroke="#e06a86" stroke-width="0.5"/><path d="M261.5,162.0 L263.0,161.4" stroke="#7a4ab0" stroke-width="0.8"/>
<circle cx="268.0" cy="170.8" r="4.4" fill="#cfe9f1"/><circle cx="268.0" cy="170.8" r="3.4" fill="#a6d6e6"/>
<path d="M273.0,171.5 L278.5,172.8" stroke="#2f9fb3" stroke-width="1.0"/><path d="M273.0,173.0 L278.5,174.2" stroke="#e06a86" stroke-width="0.5"/>
<path d="M285.05,174.42 L287.99,175.01 M284.26,175.82 L287.10,178.91 M282.80,176.48 L283.27,180.66 M281.22,176.16 L279.75,178.78 M280.13,174.98 L276.31,176.72 M279.95,173.38 L275.84,172.55 M280.74,171.98 L278.71,169.77 M282.20,171.32 L281.73,167.14 M283.78,171.64 L285.84,167.98 M284.87,172.82 L287.59,171.57" stroke="#c4bce8" stroke-width="0.75" stroke-linecap="round"/>
<circle cx="282.5" cy="173.9" r="3.5" fill="#bab2e2"/><circle cx="282.5" cy="174.2" r="1.9" fill="#9e94d6"/>
<polygon points="130.67,136.00 131.17,137.86 131.22,139.75 130.75,141.58 129.85,143.28 128.70,144.84 127.53,146.32 126.50,147.81 125.66,149.39 124.93,151.07 124.14,152.77 123.12,154.37 121.77,155.71 120.09,156.69 118.20,157.31 116.25,157.70 114.37,158.04 112.62,158.51 110.97,159.20 109.35,160.08 107.66,160.98 105.86,161.69 103.96,162.04 102.04,161.94 100.17,161.45 98.39,160.74 96.66,160.04 94.93,159.49 93.11,159.15 91.17,158.93 89.16,158.66 87.21,158.13 85.46,157.23 84.02,155.93 82.91,154.34 82.05,152.62 81.28,150.92 80.43,149.34 79.40,147.86 78.23,146.43 77.06,144.93 76.11,143.29 75.56,141.51 75.51,139.65 75.88,137.79 76.50,136.00 77.13,134.29 77.57,132.62 77.76,130.93 77.77,129.16 77.79,127.32 78.04,125.49 78.67,123.77 79.72,122.25 81.11,120.96 82.64,119.85 84.15,118.79 85.52,117.64 86.74,116.32 87.91,114.85 89.16,113.34 90.62,112.00 92.32,111.02 94.23,110.49 96.24,110.38 98.25,110.54 100.19,110.76 102.07,110.85 103.93,110.75 105.83,110.51 107.79,110.30 109.77,110.34 111.67,110.78 113.40,111.66 114.92,112.90 116.25,114.30 117.50,115.67 118.81,116.87 120.27,117.87 121.88,118.76 123.55,119.70 125.11,120.81 126.37,122.19 127.24,123.82 127.72,125.59 127.97,127.41 128.19,129.17 128.55,130.86 129.15,132.52 129.92,134.22" fill="#e8a089" filter="url(#soft)"/>
<polygon points="127.28,136.00 127.17,137.56 126.44,139.04 125.34,140.38 124.27,141.63 123.53,142.90 123.17,144.29 122.95,145.79 122.54,147.26 121.67,148.52 120.35,149.43 118.78,150.06 117.26,150.62 116.01,151.37 115.02,152.44 114.11,153.76 113.06,155.04 111.74,155.97 110.18,156.38 108.51,156.37 106.87,156.25 105.32,156.34 103.79,156.78 102.19,157.47 100.49,158.07 98.75,158.23 97.11,157.79 95.66,156.86 94.35,155.75 93.07,154.79 91.65,154.14 90.05,153.71 88.41,153.23 86.97,152.42 85.95,151.19 85.38,149.65 85.07,148.02 84.71,146.54 84.05,145.30 83.04,144.20 81.90,143.09 81.00,141.82 80.62,140.39 80.79,138.88 81.26,137.40 81.63,136.00 81.63,134.62 81.23,133.18 80.68,131.62 80.39,130.02 80.64,128.49 81.47,127.15 82.65,126.02 83.82,124.94 84.74,123.76 85.38,122.36 85.94,120.80 86.72,119.31 87.91,118.18 89.49,117.52 91.29,117.28 93.05,117.18 94.64,116.91 96.07,116.32 97.46,115.51 98.94,114.77 100.54,114.45 102.19,114.69 103.78,115.37 105.26,116.18 106.68,116.75 108.16,116.92 109.76,116.80 111.45,116.69 113.08,116.93 114.47,117.67 115.58,118.79 116.52,120.04 117.52,121.12 118.79,121.94 120.35,122.57 122.00,123.26 123.43,124.22 124.36,125.52 124.74,127.07 124.80,128.68 124.88,130.21 125.27,131.63 125.99,133.02 126.79,134.46" fill="#352524"/>
<circle cx="92.13" cy="119.60" r="2.88" fill="#cf8e96"/>
<circle cx="92.13" cy="119.60" r="1.44" fill="#b04068" opacity="0.22"/>
<circle cx="96.70" cy="120.19" r="2.59" fill="#f4a4b2"/>
<circle cx="96.70" cy="120.19" r="1.29" fill="#b04068" opacity="0.22"/>
<circle cx="102.54" cy="119.01" r="2.63" fill="#f4a4b2"/>
<circle cx="102.54" cy="119.01" r="1.31" fill="#b04068" opacity="0.22"/>
<circle cx="107.75" cy="119.61" r="2.70" fill="#cf8e96"/>
<circle cx="107.75" cy="119.61" r="1.35" fill="#b04068" opacity="0.22"/>
<circle cx="111.74" cy="118.48" r="2.59" fill="#f4a4b2"/>
<circle cx="111.74" cy="118.48" r="1.30" fill="#b04068" opacity="0.22"/>
<circle cx="88.84" cy="124.63" r="2.51" fill="#cf8e96"/>
<circle cx="88.84" cy="124.63" r="1.25" fill="#b04068" opacity="0.22"/>
<circle cx="99.70" cy="124.07" r="2.77" fill="#f4a4b2"/>
<circle cx="99.70" cy="124.07" r="1.39" fill="#b04068" opacity="0.22"/>
<circle cx="105.36" cy="124.68" r="2.38" fill="#a6c9f2"/>
<circle cx="105.36" cy="124.68" r="1.19" fill="#b04068" opacity="0.22"/>
<circle cx="115.21" cy="123.54" r="2.55" fill="#cf8e96"/>
<circle cx="115.21" cy="123.54" r="1.27" fill="#b04068" opacity="0.22"/>
<circle cx="86.40" cy="128.56" r="2.78" fill="#f4a4b2"/>
<circle cx="86.40" cy="128.56" r="1.39" fill="#b04068" opacity="0.22"/>
<circle cx="92.05" cy="129.14" r="2.34" fill="#aab3ec"/>
<circle cx="92.05" cy="129.14" r="1.17" fill="#b04068" opacity="0.22"/>
<circle cx="97.51" cy="128.34" r="2.45" fill="#f4a4b2"/>
<circle cx="97.51" cy="128.34" r="1.22" fill="#b04068" opacity="0.22"/>
<circle cx="101.14" cy="128.72" r="2.40" fill="#f4a4b2"/>
<circle cx="101.14" cy="128.72" r="1.20" fill="#b04068" opacity="0.22"/>
<circle cx="106.76" cy="129.44" r="2.73" fill="#aab3ec"/>
<circle cx="106.76" cy="129.44" r="1.36" fill="#b04068" opacity="0.22"/>
<circle cx="112.50" cy="128.05" r="2.49" fill="#f4a4b2"/>
<circle cx="112.50" cy="128.05" r="1.24" fill="#b04068" opacity="0.22"/>
<circle cx="117.56" cy="129.10" r="2.84" fill="#f4a4b2"/>
<circle cx="117.56" cy="129.10" r="1.42" fill="#b04068" opacity="0.22"/>
<circle cx="82.67" cy="133.54" r="2.60" fill="#aab3ec"/>
<circle cx="82.67" cy="133.54" r="1.30" fill="#b04068" opacity="0.22"/>
<circle cx="94.34" cy="133.48" r="2.69" fill="#cf8e96"/>
<circle cx="94.34" cy="133.48" r="1.34" fill="#b04068" opacity="0.22"/>
<circle cx="99.12" cy="133.22" r="2.56" fill="#aab3ec"/>
<circle cx="99.12" cy="133.22" r="1.28" fill="#b04068" opacity="0.22"/>
<circle cx="105.17" cy="132.23" r="2.48" fill="#f4a4b2"/>
<circle cx="105.17" cy="132.23" r="1.24" fill="#b04068" opacity="0.22"/>
<circle cx="115.79" cy="132.87" r="2.64" fill="#f4a4b2"/>
<circle cx="115.79" cy="132.87" r="1.32" fill="#b04068" opacity="0.22"/>
<circle cx="121.32" cy="133.25" r="2.58" fill="#cf8e96"/>
<circle cx="121.32" cy="133.25" r="1.29" fill="#b04068" opacity="0.22"/>
<circle cx="85.22" cy="137.83" r="2.42" fill="#cf8e96"/>
<circle cx="85.22" cy="137.83" r="1.21" fill="#b04068" opacity="0.22"/>
<circle cx="90.53" cy="138.03" r="2.31" fill="#cf8e96"/>
<circle cx="90.53" cy="138.03" r="1.16" fill="#b04068" opacity="0.22"/>
<circle cx="96.95" cy="137.45" r="2.42" fill="#f4a4b2"/>
<circle cx="96.95" cy="137.45" r="1.21" fill="#b04068" opacity="0.22"/>
<circle cx="101.62" cy="138.74" r="2.56" fill="#f4a4b2"/>
<circle cx="101.62" cy="138.74" r="1.28" fill="#b04068" opacity="0.22"/>
<circle cx="106.79" cy="136.78" r="2.51" fill="#cf8e96"/>
<circle cx="106.79" cy="136.78" r="1.25" fill="#b04068" opacity="0.22"/>
<circle cx="113.44" cy="138.08" r="2.44" fill="#cf8e96"/>
<circle cx="113.44" cy="138.08" r="1.22" fill="#b04068" opacity="0.22"/>
<circle cx="118.40" cy="136.75" r="2.43" fill="#cf8e96"/>
<circle cx="118.40" cy="136.75" r="1.21" fill="#b04068" opacity="0.22"/>
<circle cx="123.77" cy="137.89" r="2.50" fill="#f4a4b2"/>
<circle cx="123.77" cy="137.89" r="1.25" fill="#b04068" opacity="0.22"/>
<circle cx="83.92" cy="142.25" r="2.36" fill="#a6c9f2"/>
<circle cx="83.92" cy="142.25" r="1.18" fill="#b04068" opacity="0.22"/>
<circle cx="87.74" cy="141.34" r="2.39" fill="#a6c9f2"/>
<circle cx="87.74" cy="141.34" r="1.19" fill="#b04068" opacity="0.22"/>
<circle cx="93.23" cy="141.43" r="2.35" fill="#f4a4b2"/>
<circle cx="93.23" cy="141.43" r="1.17" fill="#b04068" opacity="0.22"/>
<circle cx="104.35" cy="141.83" r="2.57" fill="#f4a4b2"/>
<circle cx="104.35" cy="141.83" r="1.29" fill="#b04068" opacity="0.22"/>
<circle cx="109.46" cy="142.91" r="2.67" fill="#f4a4b2"/>
<circle cx="109.46" cy="142.91" r="1.33" fill="#b04068" opacity="0.22"/>
<circle cx="114.18" cy="142.09" r="2.32" fill="#a6c9f2"/>
<circle cx="114.18" cy="142.09" r="1.16" fill="#b04068" opacity="0.22"/>
<circle cx="119.98" cy="143.35" r="2.57" fill="#f4a4b2"/>
<circle cx="119.98" cy="143.35" r="1.29" fill="#b04068" opacity="0.22"/>
<circle cx="86.19" cy="147.59" r="2.59" fill="#aab3ec"/>
<circle cx="86.19" cy="147.59" r="1.29" fill="#b04068" opacity="0.22"/>
<circle cx="90.52" cy="147.22" r="2.77" fill="#f4a4b2"/>
<circle cx="90.52" cy="147.22" r="1.39" fill="#b04068" opacity="0.22"/>
<circle cx="97.64" cy="147.39" r="2.49" fill="#f4a4b2"/>
<circle cx="97.64" cy="147.39" r="1.24" fill="#b04068" opacity="0.22"/>
<circle cx="108.33" cy="146.03" r="2.77" fill="#cf8e96"/>
<circle cx="108.33" cy="146.03" r="1.38" fill="#b04068" opacity="0.22"/>
<circle cx="113.46" cy="147.70" r="2.46" fill="#f4a4b2"/>
<circle cx="113.46" cy="147.70" r="1.23" fill="#b04068" opacity="0.22"/>
<circle cx="117.99" cy="146.46" r="2.79" fill="#f4a4b2"/>
<circle cx="117.99" cy="146.46" r="1.40" fill="#b04068" opacity="0.22"/>
<circle cx="94.22" cy="152.43" r="2.63" fill="#f4a4b2"/>
<circle cx="94.22" cy="152.43" r="1.31" fill="#b04068" opacity="0.22"/>
<circle cx="99.52" cy="151.71" r="2.78" fill="#f4a4b2"/>
<circle cx="99.52" cy="151.71" r="1.39" fill="#b04068" opacity="0.22"/>
<circle cx="104.43" cy="150.99" r="2.35" fill="#aab3ec"/>
<circle cx="104.43" cy="150.99" r="1.17" fill="#b04068" opacity="0.22"/>
<circle cx="110.25" cy="151.04" r="2.58" fill="#cf8e96"/>
<circle cx="110.25" cy="151.04" r="1.29" fill="#b04068" opacity="0.22"/>
<circle cx="116.04" cy="150.62" r="2.35" fill="#f4a4b2"/>
<circle cx="116.04" cy="150.62" r="1.17" fill="#b04068" opacity="0.22"/>
<circle cx="97.60" cy="155.08" r="2.78" fill="#cf8e96"/>
<circle cx="97.60" cy="155.08" r="1.39" fill="#b04068" opacity="0.22"/>
<ellipse cx="95.72" cy="130.13" rx="3.4" ry="0.75" fill="#5a58cc" transform="rotate(-59 95.72 130.13)"/>
<ellipse cx="87.05" cy="135.91" rx="3.4" ry="0.75" fill="#5a58cc" transform="rotate(-53 87.05 135.91)"/>
<ellipse cx="101.87" cy="126.92" rx="3.4" ry="0.75" fill="#5a58cc" transform="rotate(-61 101.87 126.92)"/>
<ellipse cx="104.98" cy="147.87" rx="3.4" ry="0.75" fill="#5a58cc" transform="rotate(-44 104.98 147.87)"/>
<ellipse cx="112.03" cy="131.15" rx="3.4" ry="0.75" fill="#5a58cc" transform="rotate(42 112.03 131.15)"/>
<ellipse cx="115.76" cy="141.82" rx="3.4" ry="0.75" fill="#5a58cc" transform="rotate(46 115.76 141.82)"/>
<ellipse cx="104.87" cy="118.50" rx="3.4" ry="0.75" fill="#5a58cc" transform="rotate(-52 104.87 118.50)"/>
<ellipse cx="110.03" cy="126.73" rx="3.4" ry="0.75" fill="#5a58cc" transform="rotate(69 110.03 126.73)"/>
<ellipse cx="87.82" cy="126.30" rx="3.4" ry="0.75" fill="#5a58cc" transform="rotate(78 87.82 126.30)"/>
<ellipse cx="95.51" cy="132.60" rx="3.4" ry="0.75" fill="#5a58cc" transform="rotate(-71 95.51 132.60)"/>
<ellipse cx="87.38" cy="129.11" rx="3.4" ry="0.75" fill="#5a58cc" transform="rotate(-53 87.38 129.11)"/>
<ellipse cx="100.61" cy="125.19" rx="3.4" ry="0.75" fill="#5a58cc" transform="rotate(-73 100.61 125.19)"/>
<ellipse cx="102.50" cy="132.25" rx="3.4" ry="0.75" fill="#5a58cc" transform="rotate(72 102.50 132.25)"/>
<ellipse cx="95.92" cy="129.01" rx="3.4" ry="0.75" fill="#5a58cc" transform="rotate(78 95.92 129.01)"/>
<circle cx="118.17" cy="153.15" r="0.6" fill="#d83030"/>
<circle cx="106.81" cy="113.93" r="0.6" fill="#d83030"/>
<circle cx="115.91" cy="117.27" r="0.6" fill="#d83030"/>
<circle cx="90.29" cy="117.14" r="0.6" fill="#d83030"/>
<circle cx="95.75" cy="114.72" r="0.6" fill="#d83030"/>
<circle cx="80.75" cy="143.57" r="0.6" fill="#d83030"/>
<circle cx="124.03" cy="125.76" r="0.6" fill="#d83030"/>
<polygon points="343.47,138.60 343.95,140.48 343.99,142.38 343.54,144.22 342.67,145.93 341.56,147.51 340.44,149.00 339.45,150.50 338.64,152.09 337.94,153.78 337.18,155.50 336.19,157.11 334.89,158.46 333.27,159.44 331.45,160.07 329.57,160.47 327.76,160.81 326.07,161.28 324.48,161.98 322.92,162.86 321.29,163.77 319.55,164.49 317.73,164.84 315.88,164.74 314.07,164.24 312.35,163.53 310.69,162.82 309.02,162.27 307.27,161.93 305.40,161.71 303.47,161.43 301.58,160.90 299.89,159.99 298.51,158.69 297.44,157.08 296.61,155.35 295.87,153.63 295.05,152.04 294.06,150.55 292.93,149.11 291.81,147.59 290.89,145.95 290.36,144.16 290.31,142.28 290.67,140.41 291.26,138.60 291.87,136.88 292.30,135.20 292.48,133.49 292.49,131.71 292.51,129.86 292.74,128.01 293.35,126.27 294.37,124.74 295.70,123.45 297.18,122.33 298.64,121.26 299.96,120.10 301.13,118.77 302.26,117.28 303.47,115.77 304.87,114.42 306.51,113.43 308.35,112.89 310.29,112.78 312.22,112.94 314.10,113.16 315.90,113.26 317.70,113.15 319.53,112.91 321.42,112.70 323.32,112.74 325.15,113.18 326.82,114.07 328.28,115.32 329.57,116.73 330.78,118.11 332.03,119.32 333.44,120.33 334.99,121.23 336.60,122.17 338.10,123.30 339.32,124.69 340.16,126.32 340.62,128.11 340.86,129.94 341.07,131.72 341.42,133.43 342.00,135.10 342.74,136.81" fill="#e8a089" filter="url(#soft)"/>
<polygon points="340.20,138.60 340.09,140.17 339.38,141.66 338.32,143.01 337.29,144.27 336.59,145.55 336.24,146.95 336.03,148.46 335.63,149.95 334.79,151.21 333.52,152.13 332.00,152.77 330.54,153.33 329.34,154.08 328.38,155.17 327.51,156.50 326.50,157.79 325.23,158.72 323.72,159.14 322.11,159.13 320.53,159.01 319.03,159.09 317.56,159.54 316.02,160.23 314.38,160.84 312.71,161.00 311.13,160.55 309.72,159.62 308.47,158.50 307.23,157.53 305.86,156.88 304.32,156.45 302.74,155.96 301.36,155.15 300.37,153.91 299.82,152.35 299.52,150.71 299.18,149.22 298.54,147.97 297.56,146.86 296.47,145.74 295.60,144.46 295.24,143.02 295.40,141.50 295.85,140.01 296.21,138.60 296.21,137.21 295.82,135.76 295.29,134.19 295.01,132.57 295.25,131.03 296.05,129.69 297.19,128.54 298.32,127.46 299.20,126.27 299.82,124.85 300.36,123.28 301.11,121.79 302.26,120.64 303.78,119.98 305.51,119.74 307.21,119.64 308.75,119.37 310.12,118.77 311.46,117.95 312.89,117.21 314.43,116.88 316.02,117.12 317.55,117.81 318.98,118.62 320.35,119.20 321.77,119.37 323.32,119.25 324.95,119.15 326.51,119.39 327.86,120.12 328.92,121.26 329.83,122.51 330.79,123.61 332.01,124.43 333.51,125.07 335.11,125.76 336.49,126.73 337.38,128.04 337.75,129.60 337.81,131.22 337.89,132.77 338.26,134.20 338.96,135.60 339.73,137.05" fill="#352524"/>
<circle cx="306.76" cy="122.10" r="2.45" fill="#aab3ec"/>
<circle cx="306.76" cy="122.10" r="1.22" fill="#b04068" opacity="0.22"/>
<circle cx="311.01" cy="121.62" r="2.51" fill="#a6c9f2"/>
<circle cx="311.01" cy="121.62" r="1.26" fill="#b04068" opacity="0.22"/>
<circle cx="317.64" cy="122.50" r="2.74" fill="#6fd3c5"/>
<circle cx="317.64" cy="122.50" r="1.37" fill="#b04068" opacity="0.22"/>
<circle cx="322.23" cy="121.53" r="2.79" fill="#c88a94"/>
<circle cx="322.23" cy="121.53" r="1.39" fill="#b04068" opacity="0.22"/>
<circle cx="328.14" cy="122.45" r="2.85" fill="#a6c9f2"/>
<circle cx="328.14" cy="122.45" r="1.42" fill="#b04068" opacity="0.22"/>
<circle cx="309.12" cy="125.30" r="2.31" fill="#9b68cc"/>
<circle cx="309.12" cy="125.30" r="1.15" fill="#b04068" opacity="0.22"/>
<circle cx="314.84" cy="127.33" r="2.69" fill="#6fd3c5"/>
<circle cx="314.84" cy="127.33" r="1.35" fill="#b04068" opacity="0.22"/>
<circle cx="318.95" cy="125.63" r="2.75" fill="#f3a2b2"/>
<circle cx="318.95" cy="125.63" r="1.38" fill="#b04068" opacity="0.22"/>
<circle cx="323.95" cy="125.72" r="2.55" fill="#f3a2b2"/>
<circle cx="323.95" cy="125.72" r="1.28" fill="#b04068" opacity="0.22"/>
<circle cx="330.53" cy="125.20" r="2.45" fill="#f3a2b2"/>
<circle cx="330.53" cy="125.20" r="1.22" fill="#b04068" opacity="0.22"/>
<circle cx="301.42" cy="130.89" r="2.33" fill="#6fd3c5"/>
<circle cx="301.42" cy="130.89" r="1.16" fill="#b04068" opacity="0.22"/>
<circle cx="307.28" cy="130.08" r="2.86" fill="#c88a94"/>
<circle cx="307.28" cy="130.08" r="1.43" fill="#b04068" opacity="0.22"/>
<circle cx="311.78" cy="131.39" r="2.32" fill="#aab3ec"/>
<circle cx="311.78" cy="131.39" r="1.16" fill="#b04068" opacity="0.22"/>
<circle cx="316.69" cy="131.43" r="2.75" fill="#c88a94"/>
<circle cx="316.69" cy="131.43" r="1.38" fill="#b04068" opacity="0.22"/>
<circle cx="322.90" cy="131.30" r="2.36" fill="#f3a2b2"/>
<circle cx="322.90" cy="131.30" r="1.18" fill="#b04068" opacity="0.22"/>
<circle cx="327.81" cy="131.59" r="2.82" fill="#a6c9f2"/>
<circle cx="327.81" cy="131.59" r="1.41" fill="#b04068" opacity="0.22"/>
<circle cx="331.88" cy="131.03" r="2.50" fill="#aab3ec"/>
<circle cx="331.88" cy="131.03" r="1.25" fill="#b04068" opacity="0.22"/>
<circle cx="303.93" cy="134.91" r="2.36" fill="#f3a2b2"/>
<circle cx="303.93" cy="134.91" r="1.18" fill="#b04068" opacity="0.22"/>
<circle cx="315.11" cy="136.54" r="2.34" fill="#aab3ec"/>
<circle cx="315.11" cy="136.54" r="1.17" fill="#b04068" opacity="0.22"/>
<circle cx="318.53" cy="134.86" r="2.73" fill="#6fd3c5"/>
<circle cx="318.53" cy="134.86" r="1.36" fill="#b04068" opacity="0.22"/>
<circle cx="324.21" cy="135.29" r="2.39" fill="#f3a2b2"/>
<circle cx="324.21" cy="135.29" r="1.20" fill="#b04068" opacity="0.22"/>
<circle cx="329.80" cy="134.71" r="2.44" fill="#f3a2b2"/>
<circle cx="329.80" cy="134.71" r="1.22" fill="#b04068" opacity="0.22"/>
<circle cx="334.47" cy="134.75" r="2.31" fill="#f3a2b2"/>
<circle cx="334.47" cy="134.75" r="1.16" fill="#b04068" opacity="0.22"/>
<circle cx="300.26" cy="140.74" r="2.65" fill="#f3a2b2"/>
<circle cx="300.26" cy="140.74" r="1.32" fill="#b04068" opacity="0.22"/>
<circle cx="305.21" cy="139.89" r="2.85" fill="#f3a2b2"/>
<circle cx="305.21" cy="139.89" r="1.43" fill="#b04068" opacity="0.22"/>
<circle cx="311.86" cy="140.02" r="2.67" fill="#f3a2b2"/>
<circle cx="311.86" cy="140.02" r="1.33" fill="#b04068" opacity="0.22"/>
<circle cx="316.34" cy="141.13" r="2.82" fill="#f3a2b2"/>
<circle cx="316.34" cy="141.13" r="1.41" fill="#b04068" opacity="0.22"/>
<circle cx="321.91" cy="139.20" r="2.70" fill="#a6c9f2"/>
<circle cx="321.91" cy="139.20" r="1.35" fill="#b04068" opacity="0.22"/>
<circle cx="326.33" cy="139.96" r="2.58" fill="#aab3ec"/>
<circle cx="326.33" cy="139.96" r="1.29" fill="#b04068" opacity="0.22"/>
<circle cx="333.56" cy="140.32" r="2.52" fill="#f3a2b2"/>
<circle cx="333.56" cy="140.32" r="1.26" fill="#b04068" opacity="0.22"/>
<circle cx="298.41" cy="144.44" r="2.51" fill="#a6c9f2"/>
<circle cx="298.41" cy="144.44" r="1.25" fill="#b04068" opacity="0.22"/>
<circle cx="304.40" cy="144.14" r="2.81" fill="#6fd3c5"/>
<circle cx="304.40" cy="144.14" r="1.41" fill="#b04068" opacity="0.22"/>
<circle cx="309.16" cy="145.69" r="2.67" fill="#f3a2b2"/>
<circle cx="309.16" cy="145.69" r="1.34" fill="#b04068" opacity="0.22"/>
<circle cx="314.08" cy="143.67" r="2.51" fill="#c88a94"/>
<circle cx="314.08" cy="143.67" r="1.26" fill="#b04068" opacity="0.22"/>
<circle cx="319.36" cy="145.33" r="2.82" fill="#aab3ec"/>
<circle cx="319.36" cy="145.33" r="1.41" fill="#b04068" opacity="0.22"/>
<circle cx="325.23" cy="145.18" r="2.80" fill="#aab3ec"/>
<circle cx="325.23" cy="145.18" r="1.40" fill="#b04068" opacity="0.22"/>
<circle cx="329.60" cy="144.09" r="2.63" fill="#c88a94"/>
<circle cx="329.60" cy="144.09" r="1.31" fill="#b04068" opacity="0.22"/>
<circle cx="335.78" cy="145.12" r="2.79" fill="#9b68cc"/>
<circle cx="335.78" cy="145.12" r="1.40" fill="#b04068" opacity="0.22"/>
<circle cx="306.53" cy="148.47" r="2.73" fill="#f3a2b2"/>
<circle cx="306.53" cy="148.47" r="1.36" fill="#b04068" opacity="0.22"/>
<circle cx="312.35" cy="148.91" r="2.37" fill="#c88a94"/>
<circle cx="312.35" cy="148.91" r="1.18" fill="#b04068" opacity="0.22"/>
<circle cx="316.89" cy="150.28" r="2.50" fill="#f3a2b2"/>
<circle cx="316.89" cy="150.28" r="1.25" fill="#b04068" opacity="0.22"/>
<circle cx="321.55" cy="149.32" r="2.58" fill="#f3a2b2"/>
<circle cx="321.55" cy="149.32" r="1.29" fill="#b04068" opacity="0.22"/>
<circle cx="333.32" cy="149.45" r="2.73" fill="#aab3ec"/>
<circle cx="333.32" cy="149.45" r="1.37" fill="#b04068" opacity="0.22"/>
<circle cx="308.66" cy="154.22" r="2.50" fill="#aab3ec"/>
<circle cx="308.66" cy="154.22" r="1.25" fill="#b04068" opacity="0.22"/>
<circle cx="314.69" cy="154.25" r="2.43" fill="#9b68cc"/>
<circle cx="314.69" cy="154.25" r="1.22" fill="#b04068" opacity="0.22"/>
<circle cx="319.72" cy="153.68" r="2.85" fill="#6fd3c5"/>
<circle cx="319.72" cy="153.68" r="1.42" fill="#b04068" opacity="0.22"/>
<circle cx="329.98" cy="153.19" r="2.87" fill="#c88a94"/>
<circle cx="329.98" cy="153.19" r="1.43" fill="#b04068" opacity="0.22"/>
<circle cx="316.66" cy="157.97" r="2.73" fill="#aab3ec"/>
<circle cx="316.66" cy="157.97" r="1.36" fill="#b04068" opacity="0.22"/>
<ellipse cx="314.14" cy="151.23" rx="3.4" ry="0.75" fill="#5a58cc" transform="rotate(-79 314.14 151.23)"/>
<ellipse cx="325.23" cy="127.14" rx="3.4" ry="0.75" fill="#5a58cc" transform="rotate(-53 325.23 127.14)"/>
<ellipse cx="309.83" cy="138.67" rx="3.4" ry="0.75" fill="#5a58cc" transform="rotate(68 309.83 138.67)"/>
<ellipse cx="313.65" cy="147.66" rx="3.4" ry="0.75" fill="#5a58cc" transform="rotate(-67 313.65 147.66)"/>
<ellipse cx="326.91" cy="135.24" rx="3.4" ry="0.75" fill="#5a58cc" transform="rotate(61 326.91 135.24)"/>
<ellipse cx="328.74" cy="132.16" rx="3.4" ry="0.75" fill="#5a58cc" transform="rotate(-56 328.74 132.16)"/>
<ellipse cx="321.07" cy="132.65" rx="3.4" ry="0.75" fill="#5a58cc" transform="rotate(-76 321.07 132.65)"/>
<ellipse cx="334.78" cy="143.28" rx="3.4" ry="0.75" fill="#5a58cc" transform="rotate(-59 334.78 143.28)"/>
<ellipse cx="322.72" cy="140.97" rx="3.4" ry="0.75" fill="#5a58cc" transform="rotate(71 322.72 140.97)"/>
<ellipse cx="322.28" cy="131.76" rx="3.4" ry="0.75" fill="#5a58cc" transform="rotate(-67 322.28 131.76)"/>
<ellipse cx="308.05" cy="148.71" rx="3.4" ry="0.75" fill="#5a58cc" transform="rotate(58 308.05 148.71)"/>
<ellipse cx="327.58" cy="150.52" rx="3.4" ry="0.75" fill="#5a58cc" transform="rotate(49 327.58 150.52)"/>
<ellipse cx="315.70" cy="146.04" rx="3.4" ry="0.75" fill="#5a58cc" transform="rotate(59 315.70 146.04)"/>
<ellipse cx="317.06" cy="121.25" rx="3.4" ry="0.75" fill="#5a58cc" transform="rotate(-74 317.06 121.25)"/>
<circle cx="331.83" cy="155.54" r="0.6" fill="#d83030"/>
<circle cx="314.14" cy="160.98" r="0.6" fill="#d83030"/>
<circle cx="295.15" cy="131.56" r="0.6" fill="#d83030"/>
<circle cx="300.38" cy="154.23" r="0.6" fill="#d83030"/>
<circle cx="324.99" cy="117.57" r="0.6" fill="#d83030"/>
<circle cx="316.72" cy="116.07" r="0.6" fill="#d83030"/>
<circle cx="312.42" cy="160.71" r="0.6" fill="#d83030"/>
<text x="339.00" y="12.00" font-size="15.6" fill="#222" color="#222" text-anchor="start" style="stroke-width:0">B.</text>
<text x="390.20" y="9.80" font-size="9.4" fill="#222" color="#222" text-anchor="start" >Linear Mixed Model</text>
<rect x="503.65" y="13.10" width="40.45" height="10.9" fill="#f0746c"/>
<rect x="544.10" y="13.10" width="86.48" height="10.9" fill="#18bcc4"/>
<text x="501.75" y="19.15" font-size="5.8" fill="#222" color="#222" text-anchor="end" >3927</text>
<text x="632.48" y="19.15" font-size="5.8" fill="#222" color="#222" text-anchor="start" >8396</text>
<text x="428.70" y="21.85" font-size="9.2" fill="#222" color="#222" text-anchor="end" >Tumor</text>
<line x1="429.3" y1="18.55" x2="431.4" y2="18.55" stroke="#333" stroke-width="0.5"/>
<rect x="507.64" y="25.57" width="36.46" height="10.9" fill="#f0746c"/>
<rect x="544.10" y="25.57" width="19.00" height="10.9" fill="#18bcc4"/>
<text x="505.74" y="31.62" font-size="5.8" fill="#222" color="#222" text-anchor="end" >3540</text>
<text x="565.00" y="31.62" font-size="5.8" fill="#222" color="#222" text-anchor="start" >1845</text>
<text x="428.70" y="34.32" font-size="9.2" fill="#222" color="#222" text-anchor="end" >CD8 T</text>
<line x1="429.3" y1="31.02" x2="431.4" y2="31.02" stroke="#333" stroke-width="0.5"/>
<rect x="490.23" y="38.04" width="53.87" height="10.9" fill="#f0746c"/>
<rect x="544.10" y="38.04" width="19.07" height="10.9" fill="#18bcc4"/>
<text x="488.33" y="44.09" font-size="5.8" fill="#222" color="#222" text-anchor="end" >5230</text>
<text x="565.07" y="44.09" font-size="5.8" fill="#222" color="#222" text-anchor="start" >1851</text>
<text x="428.70" y="46.79" font-size="9.2" fill="#222" color="#222" text-anchor="end" >CD4 T</text>
<line x1="429.3" y1="43.49" x2="431.4" y2="43.49" stroke="#333" stroke-width="0.5"/>
<rect x="507.97" y="50.51" width="36.13" height="10.9" fill="#f0746c"/>
<rect x="544.10" y="50.51" width="16.95" height="10.9" fill="#18bcc4"/>
<text x="506.07" y="56.56" font-size="5.8" fill="#222" color="#222" text-anchor="end" >3508</text>
<text x="562.95" y="56.56" font-size="5.8" fill="#222" color="#222" text-anchor="start" >1646</text>
<text x="428.70" y="59.26" font-size="9.2" fill="#222" color="#222" text-anchor="end" >Other T</text>
<line x1="429.3" y1="55.96" x2="431.4" y2="55.96" stroke="#333" stroke-width="0.5"/>
<rect x="524.25" y="62.98" width="19.85" height="10.9" fill="#f0746c"/>
<rect x="544.10" y="62.98" width="21.54" height="10.9" fill="#18bcc4"/>
<text x="522.35" y="69.03" font-size="5.8" fill="#222" color="#222" text-anchor="end" >1927</text>
<text x="567.54" y="69.03" font-size="5.8" fill="#222" color="#222" text-anchor="start" >2091</text>
<text x="428.70" y="71.73" font-size="9.2" fill="#222" color="#222" text-anchor="end" >Cycling T</text>
<line x1="429.3" y1="68.43" x2="431.4" y2="68.43" stroke="#333" stroke-width="0.5"/>
<rect x="528.12" y="75.45" width="15.98" height="10.9" fill="#f0746c"/>
<rect x="544.10" y="75.45" width="10.69" height="10.9" fill="#18bcc4"/>
<text x="526.22" y="81.50" font-size="5.8" fill="#222" color="#222" text-anchor="end" >1551</text>
<text x="556.69" y="81.50" font-size="5.8" fill="#222" color="#222" text-anchor="start" >1038</text>
<text x="428.70" y="84.20" font-size="9.2" fill="#222" color="#222" text-anchor="end" >NK</text>
<line x1="429.3" y1="80.90" x2="431.4" y2="80.90" stroke="#333" stroke-width="0.5"/>
<rect x="452.74" y="87.92" width="91.36" height="10.9" fill="#f0746c"/>
<rect x="544.10" y="87.92" width="2.81" height="10.9" fill="#18bcc4"/>
<text x="450.84" y="93.97" font-size="5.8" fill="#222" color="#222" text-anchor="end" >8870</text>
<text x="548.81" y="93.97" font-size="5.8" fill="#222" color="#222" text-anchor="start" >273</text>
<text x="428.70" y="96.67" font-size="9.2" fill="#222" color="#222" text-anchor="end" >B</text>
<line x1="429.3" y1="93.37" x2="431.4" y2="93.37" stroke="#333" stroke-width="0.5"/>
<rect x="499.11" y="100.39" width="44.99" height="10.9" fill="#f0746c"/>
<rect x="544.10" y="100.39" width="33.98" height="10.9" fill="#18bcc4"/>
<text x="497.21" y="106.44" font-size="5.8" fill="#222" color="#222" text-anchor="end" >4368</text>
<text x="579.98" y="106.44" font-size="5.8" fill="#222" color="#222" text-anchor="start" >3299</text>
<text x="428.70" y="109.14" font-size="9.2" fill="#222" color="#222" text-anchor="end" >Mono/Macro</text>
<line x1="429.3" y1="105.84" x2="431.4" y2="105.84" stroke="#333" stroke-width="0.5"/>
<rect x="501.19" y="112.86" width="42.91" height="10.9" fill="#f0746c"/>
<rect x="544.10" y="112.86" width="13.41" height="10.9" fill="#18bcc4"/>
<text x="499.29" y="118.91" font-size="5.8" fill="#222" color="#222" text-anchor="end" >4166</text>
<text x="559.41" y="118.91" font-size="5.8" fill="#222" color="#222" text-anchor="start" >1302</text>
<text x="428.70" y="121.61" font-size="9.2" fill="#222" color="#222" text-anchor="end" >cDC</text>
<line x1="429.3" y1="118.31" x2="431.4" y2="118.31" stroke="#333" stroke-width="0.5"/>
<rect x="544.09" y="125.33" width="0.01" height="10.9" fill="#f0746c"/>
<rect x="544.10" y="125.33" width="0.05" height="10.9" fill="#18bcc4"/>
<text x="542.19" y="131.38" font-size="5.8" fill="#222" color="#222" text-anchor="end" >1</text>
<text x="546.05" y="131.38" font-size="5.8" fill="#222" color="#222" text-anchor="start" >5</text>
<text x="428.70" y="134.08" font-size="9.2" fill="#222" color="#222" text-anchor="end" >pDC</text>
<line x1="429.3" y1="130.78" x2="431.4" y2="130.78" stroke="#333" stroke-width="0.5"/>
<rect x="543.18" y="137.80" width="0.92" height="10.9" fill="#f0746c"/>
<rect x="544.10" y="137.80" width="2.24" height="10.9" fill="#18bcc4"/>
<text x="541.28" y="143.85" font-size="5.8" fill="#222" color="#222" text-anchor="end" >89</text>
<text x="548.24" y="143.85" font-size="5.8" fill="#222" color="#222" text-anchor="start" >217</text>
<text x="428.70" y="146.55" font-size="9.2" fill="#222" color="#222" text-anchor="end" >Mast</text>
<line x1="429.3" y1="143.25" x2="431.4" y2="143.25" stroke="#333" stroke-width="0.5"/>
<rect x="483.02" y="150.27" width="61.08" height="10.9" fill="#f0746c"/>
<rect x="544.10" y="150.27" width="26.66" height="10.9" fill="#18bcc4"/>
<text x="481.12" y="156.32" font-size="5.8" fill="#222" color="#222" text-anchor="end" >5930</text>
<text x="572.66" y="156.32" font-size="5.8" fill="#222" color="#222" text-anchor="start" >2588</text>
<text x="428.70" y="159.02" font-size="9.2" fill="#222" color="#222" text-anchor="end" >Endothelial</text>
<line x1="429.3" y1="155.72" x2="431.4" y2="155.72" stroke="#333" stroke-width="0.5"/>
<rect x="505.65" y="162.74" width="38.45" height="10.9" fill="#f0746c"/>
<rect x="544.10" y="162.74" width="65.93" height="10.9" fill="#18bcc4"/>
<text x="503.75" y="168.79" font-size="5.8" fill="#222" color="#222" text-anchor="end" >3733</text>
<text x="611.93" y="168.79" font-size="5.8" fill="#222" color="#222" text-anchor="start" >6401</text>
<text x="428.70" y="171.49" font-size="9.2" fill="#222" color="#222" text-anchor="end" >Fibroblast</text>
<line x1="429.3" y1="168.19" x2="431.4" y2="168.19" stroke="#333" stroke-width="0.5"/>
<rect x="491.96" y="175.21" width="52.14" height="10.9" fill="#f0746c"/>
<rect x="544.10" y="175.21" width="34.07" height="10.9" fill="#18bcc4"/>
<text x="490.06" y="181.26" font-size="5.8" fill="#222" color="#222" text-anchor="end" >5062</text>
<text x="580.07" y="181.26" font-size="5.8" fill="#222" color="#222" text-anchor="start" >3308</text>
<text x="428.70" y="183.96" font-size="9.2" fill="#222" color="#222" text-anchor="end" >Keratinocyte</text>
<line x1="429.3" y1="180.66" x2="431.4" y2="180.66" stroke="#333" stroke-width="0.5"/>
<line x1="544.1" y1="11.2" x2="544.1" y2="187.9" stroke="#333" stroke-width="0.55"/>
<line x1="431.4" y1="11.6" x2="431.4" y2="187.9" stroke="#333" stroke-width="0.6"/>
<line x1="433" y1="187.9" x2="654.2" y2="187.9" stroke="#222" stroke-width="0.65"/>
<polygon points="431.0,187.9 434.6,186.2 434.6,189.6" fill="#222"/>
<polygon points="656.0,187.9 652.4,186.2 652.4,189.6" fill="#222"/>
<line x1="441.10" y1="187.9" x2="441.10" y2="189.6" stroke="#333" stroke-width="0.5"/>
<text x="441.10" y="194.90" font-size="5.5" fill="#333" color="#333" text-anchor="middle" >10000</text>
<line x1="492.60" y1="187.9" x2="492.60" y2="189.6" stroke="#333" stroke-width="0.5"/>
<text x="492.60" y="194.90" font-size="5.5" fill="#333" color="#333" text-anchor="middle" >5000</text>
<line x1="544.10" y1="187.9" x2="544.10" y2="189.6" stroke="#333" stroke-width="0.5"/>
<text x="544.10" y="194.90" font-size="5.5" fill="#333" color="#333" text-anchor="middle" >0</text>
<line x1="595.60" y1="187.9" x2="595.60" y2="189.6" stroke="#333" stroke-width="0.5"/>
<text x="595.60" y="194.90" font-size="5.5" fill="#333" color="#333" text-anchor="middle" >5000</text>
<line x1="647.10" y1="187.9" x2="647.10" y2="189.6" stroke="#333" stroke-width="0.5"/>
<text x="647.10" y="194.90" font-size="5.5" fill="#333" color="#333" text-anchor="middle" >10000</text>
<text x="407.30" y="202.10" font-size="7.0" fill="#222" color="#222" text-anchor="start" >mregDC low</text>
<text x="543.70" y="202.10" font-size="7.07" fill="#222" color="#222" text-anchor="middle" >Number of DEGs comparing mregDC high vs. low</text>
<text x="630.00" y="202.10" font-size="7.0" fill="#222" color="#222" text-anchor="start" >mregDC high</text>
<text x="-0.90" y="209.60" font-size="16.4" fill="#222" color="#222" text-anchor="start" style="stroke-width:0">C.</text>
<text x="17.00" y="207.90" font-size="5.45" fill="#222" color="#222" text-anchor="start" >LogFC Plots by Tumor Subtype</text>
<path d="M16.50,351.94H61.45M16.50,335.78H61.45M16.50,319.62H61.45M16.50,303.46H61.45M16.50,287.30H61.45M16.50,271.14H61.45M16.50,254.98H61.45M16.50,238.82H61.45M16.50,222.66H61.45M18.50,220.4V353.2M25.00,220.4V353.2M31.50,220.4V353.2M38.00,220.4V353.2M44.50,220.4V353.2M51.00,220.4V353.2M57.50,220.4V353.2" stroke="#ececec" stroke-width="0.5" fill="none"/>
<line x1="16.50" y1="287.30" x2="61.45" y2="287.30" stroke="#999" stroke-width="0.75"/>
<path d="M18.10,271.80 C18.13,272.75 18.17,276.03 18.30,277.50 C18.43,278.97 18.57,279.80 18.90,280.60 C19.23,281.40 19.42,281.82 20.30,282.30 C21.18,282.78 21.75,282.95 24.20,283.50 C26.65,284.05 31.53,284.92 35.00,285.60 C38.47,286.28 42.25,287.05 45.00,287.60 C47.75,288.15 49.92,288.50 51.50,288.90 C53.08,289.30 53.70,289.48 54.50,290.00 C55.30,290.52 55.90,290.83 56.30,292.00 C56.70,293.17 56.77,293.80 56.90,297.00 C57.03,300.20 57.07,308.83 57.10,311.20" stroke="#87c9e6" stroke-width="2.7" fill="none" stroke-linecap="round" stroke-linejoin="round"/>
<rect x="16.50" y="220.4" width="44.95" height="132.80" fill="none" stroke="#666" stroke-width="0.9"/>
<rect x="16.50" y="211.7" width="44.95" height="8.70" fill="#d6d6d6" stroke="#5e5e5e" stroke-width="0.9"/>
<text x="38.98" y="218.30" font-size="5.55" fill="#1a1a1a" color="#1a1a1a" text-anchor="middle" style="stroke-width:0.05px">Tumor</text>
<line x1="18.50" y1="353.2" x2="18.50" y2="354.40" stroke="#444" stroke-width="0.5"/>
<text x="18.50" y="358.20" font-size="3.7" fill="#555" color="#555" text-anchor="middle" >0</text>
<line x1="31.50" y1="353.2" x2="31.50" y2="354.40" stroke="#444" stroke-width="0.5"/>
<text x="31.50" y="358.20" font-size="3.7" fill="#555" color="#555" text-anchor="middle" >5000</text>
<line x1="44.50" y1="353.2" x2="44.50" y2="354.40" stroke="#444" stroke-width="0.5"/>
<text x="44.50" y="358.20" font-size="3.7" fill="#555" color="#555" text-anchor="middle" >10000</text>
<line x1="57.50" y1="353.2" x2="57.50" y2="354.40" stroke="#444" stroke-width="0.5"/>
<text x="57.50" y="358.20" font-size="3.7" fill="#555" color="#555" text-anchor="middle" >15000</text>
<path d="M64.34,351.94H109.29M64.34,335.78H109.29M64.34,319.62H109.29M64.34,303.46H109.29M64.34,287.30H109.29M64.34,271.14H109.29M64.34,254.98H109.29M64.34,238.82H109.29M64.34,222.66H109.29M66.34,220.4V353.2M72.84,220.4V353.2M79.34,220.4V353.2M85.84,220.4V353.2M92.34,220.4V353.2M98.84,220.4V353.2M105.34,220.4V353.2" stroke="#ececec" stroke-width="0.5" fill="none"/>
<line x1="64.34" y1="287.30" x2="109.29" y2="287.30" stroke="#999" stroke-width="0.75"/>
<path d="M66.00,274.00 C66.02,274.75 66.00,277.20 66.10,278.50 C66.20,279.80 66.17,280.85 66.60,281.80 C67.03,282.75 67.47,283.58 68.70,284.20 C69.93,284.82 71.28,284.90 74.00,285.50 C76.72,286.10 82.17,287.22 85.00,287.80 C87.83,288.38 89.58,288.58 91.00,289.00 C92.42,289.42 92.90,289.80 93.50,290.30 C94.10,290.80 94.37,290.88 94.60,292.00 C94.83,293.12 94.83,294.90 94.90,297.00 C94.97,299.10 94.98,303.33 95.00,304.60" stroke="#87c9e6" stroke-width="2.7" fill="none" stroke-linecap="round" stroke-linejoin="round"/>
<rect x="64.34" y="220.4" width="44.95" height="132.80" fill="none" stroke="#666" stroke-width="0.9"/>
<rect x="64.34" y="211.7" width="44.95" height="8.70" fill="#d6d6d6" stroke="#5e5e5e" stroke-width="0.9"/>
<text x="86.81" y="218.30" font-size="5.55" fill="#1a1a1a" color="#1a1a1a" text-anchor="middle" style="stroke-width:0.05px">CD8T</text>
<line x1="66.34" y1="353.2" x2="66.34" y2="354.40" stroke="#444" stroke-width="0.5"/>
<text x="66.34" y="358.20" font-size="3.7" fill="#555" color="#555" text-anchor="middle" >0</text>
<line x1="79.34" y1="353.2" x2="79.34" y2="354.40" stroke="#444" stroke-width="0.5"/>
<text x="79.34" y="358.20" font-size="3.7" fill="#555" color="#555" text-anchor="middle" >5000</text>
<line x1="92.34" y1="353.2" x2="92.34" y2="354.40" stroke="#444" stroke-width="0.5"/>
<text x="92.34" y="358.20" font-size="3.7" fill="#555" color="#555" text-anchor="middle" >10000</text>
<line x1="105.34" y1="353.2" x2="105.34" y2="354.40" stroke="#444" stroke-width="0.5"/>
<text x="105.34" y="358.20" font-size="3.7" fill="#555" color="#555" text-anchor="middle" >15000</text>
<path d="M112.18,351.94H157.13M112.18,335.78H157.13M112.18,319.62H157.13M112.18,303.46H157.13M112.18,287.30H157.13M112.18,271.14H157.13M112.18,254.98H157.13M112.18,238.82H157.13M112.18,222.66H157.13M114.18,220.4V353.2M120.68,220.4V353.2M127.18,220.4V353.2M133.68,220.4V353.2M140.18,220.4V353.2M146.68,220.4V353.2M153.18,220.4V353.2" stroke="#ececec" stroke-width="0.5" fill="none"/>
<line x1="112.18" y1="287.30" x2="157.13" y2="287.30" stroke="#999" stroke-width="0.75"/>
<path d="M113.80,269.60 C113.83,270.50 113.88,273.22 114.00,275.00 C114.12,276.78 114.13,278.87 114.50,280.30 C114.87,281.73 115.37,282.72 116.20,283.60 C117.03,284.48 117.53,284.98 119.50,285.60 C121.47,286.22 125.25,286.78 128.00,287.30 C130.75,287.82 133.92,288.27 136.00,288.70 C138.08,289.13 139.28,289.35 140.50,289.90 C141.72,290.45 142.57,290.98 143.30,292.00 C144.03,293.02 144.53,294.33 144.90,296.00 C145.27,297.67 145.35,299.67 145.50,302.00 C145.65,304.33 145.75,308.67 145.80,310.00" stroke="#87c9e6" stroke-width="2.7" fill="none" stroke-linecap="round" stroke-linejoin="round"/>
<rect x="112.18" y="220.4" width="44.95" height="132.80" fill="none" stroke="#666" stroke-width="0.9"/>
<rect x="112.18" y="211.7" width="44.95" height="8.70" fill="#d6d6d6" stroke="#5e5e5e" stroke-width="0.9"/>
<text x="134.66" y="218.30" font-size="5.55" fill="#1a1a1a" color="#1a1a1a" text-anchor="middle" style="stroke-width:0.05px">CD4T</text>
<line x1="114.18" y1="353.2" x2="114.18" y2="354.40" stroke="#444" stroke-width="0.5"/>
<text x="114.18" y="358.20" font-size="3.7" fill="#555" color="#555" text-anchor="middle" >0</text>
<line x1="127.18" y1="353.2" x2="127.18" y2="354.40" stroke="#444" stroke-width="0.5"/>
<text x="127.18" y="358.20" font-size="3.7" fill="#555" color="#555" text-anchor="middle" >5000</text>
<line x1="140.18" y1="353.2" x2="140.18" y2="354.40" stroke="#444" stroke-width="0.5"/>
<text x="140.18" y="358.20" font-size="3.7" fill="#555" color="#555" text-anchor="middle" >10000</text>
<line x1="153.18" y1="353.2" x2="153.18" y2="354.40" stroke="#444" stroke-width="0.5"/>
<text x="153.18" y="358.20" font-size="3.7" fill="#555" color="#555" text-anchor="middle" >15000</text>
<path d="M160.02,351.94H204.97M160.02,335.78H204.97M160.02,319.62H204.97M160.02,303.46H204.97M160.02,287.30H204.97M160.02,271.14H204.97M160.02,254.98H204.97M160.02,238.82H204.97M160.02,222.66H204.97M162.02,220.4V353.2M168.52,220.4V353.2M175.02,220.4V353.2M181.52,220.4V353.2M188.02,220.4V353.2M194.52,220.4V353.2M201.02,220.4V353.2" stroke="#ececec" stroke-width="0.5" fill="none"/>
<line x1="160.02" y1="287.30" x2="204.97" y2="287.30" stroke="#999" stroke-width="0.75"/>
<path d="M161.60,271.50 C161.63,272.33 161.67,274.92 161.80,276.50 C161.93,278.08 161.97,279.77 162.40,281.00 C162.83,282.23 163.47,283.15 164.40,283.90 C165.33,284.65 166.07,284.95 168.00,285.50 C169.93,286.05 173.50,286.68 176.00,287.20 C178.50,287.72 181.08,288.13 183.00,288.60 C184.92,289.07 186.23,289.35 187.50,290.00 C188.77,290.65 189.82,291.33 190.60,292.50 C191.38,293.67 191.83,295.08 192.20,297.00 C192.57,298.92 192.67,301.47 192.80,304.00 C192.93,306.53 192.97,310.83 193.00,312.20" stroke="#87c9e6" stroke-width="2.7" fill="none" stroke-linecap="round" stroke-linejoin="round"/>
<rect x="160.02" y="220.4" width="44.95" height="132.80" fill="none" stroke="#666" stroke-width="0.9"/>
<rect x="160.02" y="211.7" width="44.95" height="8.70" fill="#d6d6d6" stroke="#5e5e5e" stroke-width="0.9"/>
<text x="182.50" y="218.30" font-size="5.55" fill="#1a1a1a" color="#1a1a1a" text-anchor="middle" style="stroke-width:0.05px">Other T</text>
<line x1="162.02" y1="353.2" x2="162.02" y2="354.40" stroke="#444" stroke-width="0.5"/>
<text x="162.02" y="358.20" font-size="3.7" fill="#555" color="#555" text-anchor="middle" >0</text>
<line x1="175.02" y1="353.2" x2="175.02" y2="354.40" stroke="#444" stroke-width="0.5"/>
<text x="175.02" y="358.20" font-size="3.7" fill="#555" color="#555" text-anchor="middle" >5000</text>
<line x1="188.02" y1="353.2" x2="188.02" y2="354.40" stroke="#444" stroke-width="0.5"/>
<text x="188.02" y="358.20" font-size="3.7" fill="#555" color="#555" text-anchor="middle" >10000</text>
<line x1="201.02" y1="353.2" x2="201.02" y2="354.40" stroke="#444" stroke-width="0.5"/>
<text x="201.02" y="358.20" font-size="3.7" fill="#555" color="#555" text-anchor="middle" >15000</text>
<path d="M207.86,351.94H252.81M207.86,335.78H252.81M207.86,319.62H252.81M207.86,303.46H252.81M207.86,287.30H252.81M207.86,271.14H252.81M207.86,254.98H252.81M207.86,238.82H252.81M207.86,222.66H252.81M209.86,220.4V353.2M216.36,220.4V353.2M222.86,220.4V353.2M229.36,220.4V353.2M235.86,220.4V353.2M242.36,220.4V353.2M248.86,220.4V353.2" stroke="#ececec" stroke-width="0.5" fill="none"/>
<line x1="207.86" y1="287.30" x2="252.81" y2="287.30" stroke="#999" stroke-width="0.75"/>
<path d="M209.60,271.10 C209.63,271.83 209.67,274.02 209.80,275.50 C209.93,276.98 210.00,278.77 210.40,280.00 C210.80,281.23 211.35,282.13 212.20,282.90 C213.05,283.67 213.87,284.12 215.50,284.60 C217.13,285.08 219.58,285.33 222.00,285.80 C224.42,286.27 227.58,286.90 230.00,287.40 C232.42,287.90 234.75,288.37 236.50,288.80 C238.25,289.23 239.50,289.38 240.50,290.00 C241.50,290.62 242.07,291.33 242.50,292.50 C242.93,293.67 242.98,295.08 243.10,297.00 C243.22,298.92 243.18,302.83 243.20,304.00" stroke="#87c9e6" stroke-width="2.7" fill="none" stroke-linecap="round" stroke-linejoin="round"/>
<rect x="207.86" y="220.4" width="44.95" height="132.80" fill="none" stroke="#666" stroke-width="0.9"/>
<rect x="207.86" y="211.7" width="44.95" height="8.70" fill="#d6d6d6" stroke="#5e5e5e" stroke-width="0.9"/>
<text x="230.34" y="218.30" font-size="5.55" fill="#1a1a1a" color="#1a1a1a" text-anchor="middle" style="stroke-width:0.05px">Cycling T</text>
<line x1="209.86" y1="353.2" x2="209.86" y2="354.40" stroke="#444" stroke-width="0.5"/>
<text x="209.86" y="358.20" font-size="3.7" fill="#555" color="#555" text-anchor="middle" >0</text>
<line x1="222.86" y1="353.2" x2="222.86" y2="354.40" stroke="#444" stroke-width="0.5"/>
<text x="222.86" y="358.20" font-size="3.7" fill="#555" color="#555" text-anchor="middle" >5000</text>
<line x1="235.86" y1="353.2" x2="235.86" y2="354.40" stroke="#444" stroke-width="0.5"/>
<text x="235.86" y="358.20" font-size="3.7" fill="#555" color="#555" text-anchor="middle" >10000</text>
<line x1="248.86" y1="353.2" x2="248.86" y2="354.40" stroke="#444" stroke-width="0.5"/>
<text x="248.86" y="358.20" font-size="3.7" fill="#555" color="#555" text-anchor="middle" >15000</text>
<path d="M255.70,351.94H300.65M255.70,335.78H300.65M255.70,319.62H300.65M255.70,303.46H300.65M255.70,287.30H300.65M255.70,271.14H300.65M255.70,254.98H300.65M255.70,238.82H300.65M255.70,222.66H300.65M257.70,220.4V353.2M264.20,220.4V353.2M270.70,220.4V353.2M277.20,220.4V353.2M283.70,220.4V353.2M290.20,220.4V353.2M296.70,220.4V353.2" stroke="#ececec" stroke-width="0.5" fill="none"/>
<line x1="255.70" y1="287.30" x2="300.65" y2="287.30" stroke="#999" stroke-width="0.75"/>
<path d="M257.50,265.00 C257.52,266.17 257.53,269.75 257.60,272.00 C257.67,274.25 257.62,276.77 257.90,278.50 C258.18,280.23 258.53,281.38 259.30,282.40 C260.07,283.42 260.72,283.95 262.50,284.60 C264.28,285.25 267.42,285.75 270.00,286.30 C272.58,286.85 275.57,287.40 278.00,287.90 C280.43,288.40 283.02,288.82 284.60,289.30 C286.18,289.78 286.78,290.02 287.50,290.80 C288.22,291.58 288.60,292.47 288.90,294.00 C289.20,295.53 289.20,297.58 289.30,300.00 C289.40,302.42 289.47,307.08 289.50,308.50" stroke="#87c9e6" stroke-width="2.7" fill="none" stroke-linecap="round" stroke-linejoin="round"/>
<rect x="255.70" y="220.4" width="44.95" height="132.80" fill="none" stroke="#666" stroke-width="0.9"/>
<rect x="255.70" y="211.7" width="44.95" height="8.70" fill="#d6d6d6" stroke="#5e5e5e" stroke-width="0.9"/>
<text x="278.18" y="218.30" font-size="5.55" fill="#1a1a1a" color="#1a1a1a" text-anchor="middle" style="stroke-width:0.05px">NK</text>
<line x1="257.70" y1="353.2" x2="257.70" y2="354.40" stroke="#444" stroke-width="0.5"/>
<text x="257.70" y="358.20" font-size="3.7" fill="#555" color="#555" text-anchor="middle" >0</text>
<line x1="270.70" y1="353.2" x2="270.70" y2="354.40" stroke="#444" stroke-width="0.5"/>
<text x="270.70" y="358.20" font-size="3.7" fill="#555" color="#555" text-anchor="middle" >5000</text>
<line x1="283.70" y1="353.2" x2="283.70" y2="354.40" stroke="#444" stroke-width="0.5"/>
<text x="283.70" y="358.20" font-size="3.7" fill="#555" color="#555" text-anchor="middle" >10000</text>
<line x1="296.70" y1="353.2" x2="296.70" y2="354.40" stroke="#444" stroke-width="0.5"/>
<text x="296.70" y="358.20" font-size="3.7" fill="#555" color="#555" text-anchor="middle" >15000</text>
<path d="M303.54,351.94H348.49M303.54,335.78H348.49M303.54,319.62H348.49M303.54,303.46H348.49M303.54,287.30H348.49M303.54,271.14H348.49M303.54,254.98H348.49M303.54,238.82H348.49M303.54,222.66H348.49M305.54,220.4V353.2M312.04,220.4V353.2M318.54,220.4V353.2M325.04,220.4V353.2M331.54,220.4V353.2M338.04,220.4V353.2M344.54,220.4V353.2" stroke="#ececec" stroke-width="0.5" fill="none"/>
<line x1="303.54" y1="287.30" x2="348.49" y2="287.30" stroke="#999" stroke-width="0.75"/>
<path d="M305.90,269.00 C305.90,269.83 305.85,272.17 305.90,274.00 C305.95,275.83 305.97,278.25 306.20,280.00 C306.43,281.75 306.67,283.30 307.30,284.50 C307.93,285.70 308.55,286.32 310.00,287.20 C311.45,288.08 313.67,288.80 316.00,289.80 C318.33,290.80 321.58,292.08 324.00,293.20 C326.42,294.32 328.80,295.28 330.50,296.50 C332.20,297.72 333.28,298.92 334.20,300.50 C335.12,302.08 335.57,303.58 336.00,306.00 C336.43,308.42 336.63,311.78 336.80,315.00 C336.97,318.22 336.97,323.58 337.00,325.30" stroke="#87c9e6" stroke-width="2.7" fill="none" stroke-linecap="round" stroke-linejoin="round"/>
<rect x="303.54" y="220.4" width="44.95" height="132.80" fill="none" stroke="#666" stroke-width="0.9"/>
<rect x="303.54" y="211.7" width="44.95" height="8.70" fill="#d6d6d6" stroke="#5e5e5e" stroke-width="0.9"/>
<text x="326.02" y="218.30" font-size="5.55" fill="#1a1a1a" color="#1a1a1a" text-anchor="middle" style="stroke-width:0.05px">B</text>
<line x1="305.54" y1="353.2" x2="305.54" y2="354.40" stroke="#444" stroke-width="0.5"/>
<text x="305.54" y="358.20" font-size="3.7" fill="#555" color="#555" text-anchor="middle" >0</text>
<line x1="318.54" y1="353.2" x2="318.54" y2="354.40" stroke="#444" stroke-width="0.5"/>
<text x="318.54" y="358.20" font-size="3.7" fill="#555" color="#555" text-anchor="middle" >5000</text>
<line x1="331.54" y1="353.2" x2="331.54" y2="354.40" stroke="#444" stroke-width="0.5"/>
<text x="331.54" y="358.20" font-size="3.7" fill="#555" color="#555" text-anchor="middle" >10000</text>
<line x1="344.54" y1="353.2" x2="344.54" y2="354.40" stroke="#444" stroke-width="0.5"/>
<text x="344.54" y="358.20" font-size="3.7" fill="#555" color="#555" text-anchor="middle" >15000</text>
<path d="M351.38,351.94H396.33M351.38,335.78H396.33M351.38,319.62H396.33M351.38,303.46H396.33M351.38,287.30H396.33M351.38,271.14H396.33M351.38,254.98H396.33M351.38,238.82H396.33M351.38,222.66H396.33M353.38,220.4V353.2M359.88,220.4V353.2M366.38,220.4V353.2M372.88,220.4V353.2M379.38,220.4V353.2M385.88,220.4V353.2M392.38,220.4V353.2" stroke="#ececec" stroke-width="0.5" fill="none"/>
<line x1="351.38" y1="287.30" x2="396.33" y2="287.30" stroke="#999" stroke-width="0.75"/>
<path d="M353.50,259.00 C353.52,260.50 353.47,265.25 353.60,268.00 C353.73,270.75 353.87,273.43 354.30,275.50 C354.73,277.57 355.37,279.07 356.20,280.40 C357.03,281.73 357.67,282.53 359.30,283.50 C360.93,284.47 363.55,285.23 366.00,286.20 C368.45,287.17 371.37,288.22 374.00,289.30 C376.63,290.38 380.00,291.50 381.80,292.70 C383.60,293.90 384.10,294.95 384.80,296.50 C385.50,298.05 385.70,298.92 386.00,302.00 C386.30,305.08 386.47,309.92 386.60,315.00 C386.73,320.08 386.77,329.58 386.80,332.50" stroke="#87c9e6" stroke-width="2.7" fill="none" stroke-linecap="round" stroke-linejoin="round"/>
<rect x="351.38" y="220.4" width="44.95" height="132.80" fill="none" stroke="#666" stroke-width="0.9"/>
<rect x="351.38" y="211.7" width="44.95" height="8.70" fill="#d6d6d6" stroke="#5e5e5e" stroke-width="0.9"/>
<text x="373.86" y="218.30" font-size="5.55" fill="#1a1a1a" color="#1a1a1a" text-anchor="middle" style="stroke-width:0.05px">Mono/Macro</text>
<line x1="353.38" y1="353.2" x2="353.38" y2="354.40" stroke="#444" stroke-width="0.5"/>
<text x="353.38" y="358.20" font-size="3.7" fill="#555" color="#555" text-anchor="middle" >0</text>
<line x1="366.38" y1="353.2" x2="366.38" y2="354.40" stroke="#444" stroke-width="0.5"/>
<text x="366.38" y="358.20" font-size="3.7" fill="#555" color="#555" text-anchor="middle" >5000</text>
<line x1="379.38" y1="353.2" x2="379.38" y2="354.40" stroke="#444" stroke-width="0.5"/>
<text x="379.38" y="358.20" font-size="3.7" fill="#555" color="#555" text-anchor="middle" >10000</text>
<line x1="392.38" y1="353.2" x2="392.38" y2="354.40" stroke="#444" stroke-width="0.5"/>
<text x="392.38" y="358.20" font-size="3.7" fill="#555" color="#555" text-anchor="middle" >15000</text>
<path d="M399.22,351.94H444.17M399.22,335.78H444.17M399.22,319.62H444.17M399.22,303.46H444.17M399.22,287.30H444.17M399.22,271.14H444.17M399.22,254.98H444.17M399.22,238.82H444.17M399.22,222.66H444.17M401.22,220.4V353.2M407.72,220.4V353.2M414.22,220.4V353.2M420.72,220.4V353.2M427.22,220.4V353.2M433.72,220.4V353.2M440.22,220.4V353.2" stroke="#ececec" stroke-width="0.5" fill="none"/>
<line x1="399.22" y1="287.30" x2="444.17" y2="287.30" stroke="#999" stroke-width="0.75"/>
<path d="M401.20,256.90 C401.22,258.25 401.23,262.32 401.30,265.00 C401.37,267.68 401.38,270.78 401.60,273.00 C401.82,275.22 402.12,276.92 402.60,278.30 C403.08,279.68 403.60,280.35 404.50,281.30 C405.40,282.25 406.25,283.00 408.00,284.00 C409.75,285.00 412.50,286.22 415.00,287.30 C417.50,288.38 420.38,289.27 423.00,290.50 C425.62,291.73 428.83,293.20 430.70,294.70 C432.57,296.20 433.37,297.62 434.20,299.50 C435.03,301.38 435.35,303.58 435.70,306.00 C436.05,308.42 436.18,311.47 436.30,314.00 C436.42,316.53 436.38,320.00 436.40,321.20" stroke="#87c9e6" stroke-width="2.7" fill="none" stroke-linecap="round" stroke-linejoin="round"/>
<rect x="399.22" y="220.4" width="44.95" height="132.80" fill="none" stroke="#666" stroke-width="0.9"/>
<rect x="399.22" y="211.7" width="44.95" height="8.70" fill="#d6d6d6" stroke="#5e5e5e" stroke-width="0.9"/>
<text x="421.70" y="218.30" font-size="5.55" fill="#1a1a1a" color="#1a1a1a" text-anchor="middle" style="stroke-width:0.05px">cDC</text>
<line x1="401.22" y1="353.2" x2="401.22" y2="354.40" stroke="#444" stroke-width="0.5"/>
<text x="401.22" y="358.20" font-size="3.7" fill="#555" color="#555" text-anchor="middle" >0</text>
<line x1="414.22" y1="353.2" x2="414.22" y2="354.40" stroke="#444" stroke-width="0.5"/>
<text x="414.22" y="358.20" font-size="3.7" fill="#555" color="#555" text-anchor="middle" >5000</text>
<line x1="427.22" y1="353.2" x2="427.22" y2="354.40" stroke="#444" stroke-width="0.5"/>
<text x="427.22" y="358.20" font-size="3.7" fill="#555" color="#555" text-anchor="middle" >10000</text>
<line x1="440.22" y1="353.2" x2="440.22" y2="354.40" stroke="#444" stroke-width="0.5"/>
<text x="440.22" y="358.20" font-size="3.7" fill="#555" color="#555" text-anchor="middle" >15000</text>
<path d="M447.06,351.94H492.01M447.06,335.78H492.01M447.06,319.62H492.01M447.06,303.46H492.01M447.06,287.30H492.01M447.06,271.14H492.01M447.06,254.98H492.01M447.06,238.82H492.01M447.06,222.66H492.01M449.06,220.4V353.2M455.56,220.4V353.2M462.06,220.4V353.2M468.56,220.4V353.2M475.06,220.4V353.2M481.56,220.4V353.2M488.06,220.4V353.2" stroke="#ececec" stroke-width="0.5" fill="none"/>
<line x1="447.06" y1="287.30" x2="492.01" y2="287.30" stroke="#999" stroke-width="0.75"/>
<rect x="447.06" y="220.4" width="44.95" height="132.80" fill="none" stroke="#666" stroke-width="0.9"/>
<rect x="447.06" y="211.7" width="44.95" height="8.70" fill="#d6d6d6" stroke="#5e5e5e" stroke-width="0.9"/>
<text x="469.54" y="218.30" font-size="5.55" fill="#1a1a1a" color="#1a1a1a" text-anchor="middle" style="stroke-width:0.05px">pDC</text>
<line x1="449.06" y1="353.2" x2="449.06" y2="354.40" stroke="#444" stroke-width="0.5"/>
<text x="449.06" y="358.20" font-size="3.7" fill="#555" color="#555" text-anchor="middle" >0</text>
<line x1="462.06" y1="353.2" x2="462.06" y2="354.40" stroke="#444" stroke-width="0.5"/>
<text x="462.06" y="358.20" font-size="3.7" fill="#555" color="#555" text-anchor="middle" >5000</text>
<line x1="475.06" y1="353.2" x2="475.06" y2="354.40" stroke="#444" stroke-width="0.5"/>
<text x="475.06" y="358.20" font-size="3.7" fill="#555" color="#555" text-anchor="middle" >10000</text>
<line x1="488.06" y1="353.2" x2="488.06" y2="354.40" stroke="#444" stroke-width="0.5"/>
<text x="488.06" y="358.20" font-size="3.7" fill="#555" color="#555" text-anchor="middle" >15000</text>
<path d="M494.90,351.94H539.85M494.90,335.78H539.85M494.90,319.62H539.85M494.90,303.46H539.85M494.90,287.30H539.85M494.90,271.14H539.85M494.90,254.98H539.85M494.90,238.82H539.85M494.90,222.66H539.85M496.90,220.4V353.2M503.40,220.4V353.2M509.90,220.4V353.2M516.40,220.4V353.2M522.90,220.4V353.2M529.40,220.4V353.2M535.90,220.4V353.2" stroke="#ececec" stroke-width="0.5" fill="none"/>
<line x1="494.90" y1="287.30" x2="539.85" y2="287.30" stroke="#999" stroke-width="0.75"/>
<rect x="494.90" y="220.4" width="44.95" height="132.80" fill="none" stroke="#666" stroke-width="0.9"/>
<rect x="494.90" y="211.7" width="44.95" height="8.70" fill="#d6d6d6" stroke="#5e5e5e" stroke-width="0.9"/>
<text x="517.38" y="218.30" font-size="5.55" fill="#1a1a1a" color="#1a1a1a" text-anchor="middle" style="stroke-width:0.05px">Mast</text>
<line x1="496.90" y1="353.2" x2="496.90" y2="354.40" stroke="#444" stroke-width="0.5"/>
<text x="496.90" y="358.20" font-size="3.7" fill="#555" color="#555" text-anchor="middle" >0</text>
<line x1="509.90" y1="353.2" x2="509.90" y2="354.40" stroke="#444" stroke-width="0.5"/>
<text x="509.90" y="358.20" font-size="3.7" fill="#555" color="#555" text-anchor="middle" >5000</text>
<line x1="522.90" y1="353.2" x2="522.90" y2="354.40" stroke="#444" stroke-width="0.5"/>
<text x="522.90" y="358.20" font-size="3.7" fill="#555" color="#555" text-anchor="middle" >10000</text>
<line x1="535.90" y1="353.2" x2="535.90" y2="354.40" stroke="#444" stroke-width="0.5"/>
<text x="535.90" y="358.20" font-size="3.7" fill="#555" color="#555" text-anchor="middle" >15000</text>
<path d="M542.74,351.94H587.69M542.74,335.78H587.69M542.74,319.62H587.69M542.74,303.46H587.69M542.74,287.30H587.69M542.74,271.14H587.69M542.74,254.98H587.69M542.74,238.82H587.69M542.74,222.66H587.69M544.74,220.4V353.2M551.24,220.4V353.2M557.74,220.4V353.2M564.24,220.4V353.2M570.74,220.4V353.2M577.24,220.4V353.2M583.74,220.4V353.2" stroke="#ececec" stroke-width="0.5" fill="none"/>
<line x1="542.74" y1="287.30" x2="587.69" y2="287.30" stroke="#999" stroke-width="0.75"/>
<path d="M544.50,262.00 C544.52,263.00 544.52,266.00 544.60,268.00 C544.68,270.00 544.77,272.08 545.00,274.00 C545.23,275.92 545.42,277.95 546.00,279.50 C546.58,281.05 547.33,282.33 548.50,283.30 C549.67,284.27 551.08,284.70 553.00,285.30 C554.92,285.90 557.50,286.28 560.00,286.90 C562.50,287.52 565.58,288.15 568.00,289.00 C570.42,289.85 572.58,290.90 574.50,292.00 C576.42,293.10 578.25,294.35 579.50,295.60 C580.75,296.85 581.42,297.93 582.00,299.50 C582.58,301.07 582.77,302.48 583.00,305.00 C583.23,307.52 583.33,313.00 583.40,314.60" stroke="#87c9e6" stroke-width="2.7" fill="none" stroke-linecap="round" stroke-linejoin="round"/>
<rect x="542.74" y="220.4" width="44.95" height="132.80" fill="none" stroke="#666" stroke-width="0.9"/>
<rect x="542.74" y="211.7" width="44.95" height="8.70" fill="#d6d6d6" stroke="#5e5e5e" stroke-width="0.9"/>
<text x="565.22" y="218.30" font-size="5.55" fill="#1a1a1a" color="#1a1a1a" text-anchor="middle" style="stroke-width:0.05px">Endothelial</text>
<line x1="544.74" y1="353.2" x2="544.74" y2="354.40" stroke="#444" stroke-width="0.5"/>
<text x="544.74" y="358.20" font-size="3.7" fill="#555" color="#555" text-anchor="middle" >0</text>
<line x1="557.74" y1="353.2" x2="557.74" y2="354.40" stroke="#444" stroke-width="0.5"/>
<text x="557.74" y="358.20" font-size="3.7" fill="#555" color="#555" text-anchor="middle" >5000</text>
<line x1="570.74" y1="353.2" x2="570.74" y2="354.40" stroke="#444" stroke-width="0.5"/>
<text x="570.74" y="358.20" font-size="3.7" fill="#555" color="#555" text-anchor="middle" >10000</text>
<line x1="583.74" y1="353.2" x2="583.74" y2="354.40" stroke="#444" stroke-width="0.5"/>
<text x="583.74" y="358.20" font-size="3.7" fill="#555" color="#555" text-anchor="middle" >15000</text>
<path d="M590.58,351.94H635.53M590.58,335.78H635.53M590.58,319.62H635.53M590.58,303.46H635.53M590.58,287.30H635.53M590.58,271.14H635.53M590.58,254.98H635.53M590.58,238.82H635.53M590.58,222.66H635.53M592.58,220.4V353.2M599.08,220.4V353.2M605.58,220.4V353.2M612.08,220.4V353.2M618.58,220.4V353.2M625.08,220.4V353.2M631.58,220.4V353.2" stroke="#ececec" stroke-width="0.5" fill="none"/>
<line x1="590.58" y1="287.30" x2="635.53" y2="287.30" stroke="#999" stroke-width="0.75"/>
<path d="M592.50,261.50 C592.53,262.58 592.60,265.75 592.70,268.00 C592.80,270.25 592.80,273.12 593.10,275.00 C593.40,276.88 593.65,278.17 594.50,279.30 C595.35,280.43 596.28,281.02 598.20,281.80 C600.12,282.58 603.35,283.30 606.00,284.00 C608.65,284.70 611.77,285.37 614.10,286.00 C616.43,286.63 618.10,287.05 620.00,287.80 C621.90,288.55 623.83,289.47 625.50,290.50 C627.17,291.53 628.83,292.67 630.00,294.00 C631.17,295.33 631.88,296.50 632.50,298.50 C633.12,300.50 633.45,302.42 633.70,306.00 C633.95,309.58 633.92,313.37 634.00,320.00 C634.08,326.63 634.17,341.50 634.20,345.80" stroke="#87c9e6" stroke-width="2.7" fill="none" stroke-linecap="round" stroke-linejoin="round"/>
<rect x="590.58" y="220.4" width="44.95" height="132.80" fill="none" stroke="#666" stroke-width="0.9"/>
<rect x="590.58" y="211.7" width="44.95" height="8.70" fill="#d6d6d6" stroke="#5e5e5e" stroke-width="0.9"/>
<text x="613.06" y="218.30" font-size="5.55" fill="#1a1a1a" color="#1a1a1a" text-anchor="middle" style="stroke-width:0.05px">Fibroblast</text>
<line x1="592.58" y1="353.2" x2="592.58" y2="354.40" stroke="#444" stroke-width="0.5"/>
<text x="592.58" y="358.20" font-size="3.7" fill="#555" color="#555" text-anchor="middle" >0</text>
<line x1="605.58" y1="353.2" x2="605.58" y2="354.40" stroke="#444" stroke-width="0.5"/>
<text x="605.58" y="358.20" font-size="3.7" fill="#555" color="#555" text-anchor="middle" >5000</text>
<line x1="618.58" y1="353.2" x2="618.58" y2="354.40" stroke="#444" stroke-width="0.5"/>
<text x="618.58" y="358.20" font-size="3.7" fill="#555" color="#555" text-anchor="middle" >10000</text>
<line x1="631.58" y1="353.2" x2="631.58" y2="354.40" stroke="#444" stroke-width="0.5"/>
<text x="631.58" y="358.20" font-size="3.7" fill="#555" color="#555" text-anchor="middle" >15000</text>
<path d="M638.42,351.94H683.37M638.42,335.78H683.37M638.42,319.62H683.37M638.42,303.46H683.37M638.42,287.30H683.37M638.42,271.14H683.37M638.42,254.98H683.37M638.42,238.82H683.37M638.42,222.66H683.37M640.42,220.4V353.2M646.92,220.4V353.2M653.42,220.4V353.2M659.92,220.4V353.2M666.42,220.4V353.2M672.92,220.4V353.2M679.42,220.4V353.2" stroke="#ececec" stroke-width="0.5" fill="none"/>
<line x1="638.42" y1="287.30" x2="683.37" y2="287.30" stroke="#999" stroke-width="0.75"/>
<path d="M640.00,261.50 C640.03,262.42 640.08,265.00 640.20,267.00 C640.32,269.00 640.35,271.67 640.70,273.50 C641.05,275.33 641.45,276.80 642.30,278.00 C643.15,279.20 644.18,279.78 645.80,280.70 C647.42,281.62 649.88,282.62 652.00,283.50 C654.12,284.38 656.33,285.15 658.50,286.00 C660.67,286.85 662.88,287.72 665.00,288.60 C667.12,289.48 669.45,290.32 671.20,291.30 C672.95,292.28 674.28,293.30 675.50,294.50 C676.72,295.70 677.70,296.92 678.50,298.50 C679.30,300.08 679.88,301.92 680.30,304.00 C680.72,306.08 680.85,308.67 681.00,311.00 C681.15,313.33 681.17,316.83 681.20,318.00" stroke="#87c9e6" stroke-width="2.7" fill="none" stroke-linecap="round" stroke-linejoin="round"/>
<rect x="638.42" y="220.4" width="44.95" height="132.80" fill="none" stroke="#666" stroke-width="0.9"/>
<rect x="638.42" y="211.7" width="44.95" height="8.70" fill="#d6d6d6" stroke="#5e5e5e" stroke-width="0.9"/>
<text x="660.90" y="218.30" font-size="5.55" fill="#1a1a1a" color="#1a1a1a" text-anchor="middle" style="stroke-width:0.05px">Keratinocyte</text>
<line x1="640.42" y1="353.2" x2="640.42" y2="354.40" stroke="#444" stroke-width="0.5"/>
<text x="640.42" y="358.20" font-size="3.7" fill="#555" color="#555" text-anchor="middle" >0</text>
<line x1="653.42" y1="353.2" x2="653.42" y2="354.40" stroke="#444" stroke-width="0.5"/>
<text x="653.42" y="358.20" font-size="3.7" fill="#555" color="#555" text-anchor="middle" >5000</text>
<line x1="666.42" y1="353.2" x2="666.42" y2="354.40" stroke="#444" stroke-width="0.5"/>
<text x="666.42" y="358.20" font-size="3.7" fill="#555" color="#555" text-anchor="middle" >10000</text>
<line x1="679.42" y1="353.2" x2="679.42" y2="354.40" stroke="#444" stroke-width="0.5"/>
<text x="679.42" y="358.20" font-size="3.7" fill="#555" color="#555" text-anchor="middle" >15000</text>
<path d="M450.30,271.40 C450.52,272.00 451.07,273.73 451.60,275.00 C452.13,276.27 452.60,277.78 453.50,279.00 C454.40,280.22 455.58,281.30 457.00,282.30 C458.42,283.30 460.33,284.22 462.00,285.00 C463.67,285.78 465.45,286.42 467.00,287.00 C468.55,287.58 470.05,287.90 471.30,288.50 C472.55,289.10 473.55,289.68 474.50,290.60 C475.45,291.52 476.17,292.68 477.00,294.00 C477.83,295.32 478.75,296.67 479.50,298.50 C480.25,300.33 480.97,302.58 481.50,305.00 C482.03,307.42 482.40,309.33 482.70,313.00 C483.00,316.67 483.13,321.83 483.30,327.00 C483.47,332.17 483.63,341.17 483.70,344.00" stroke="#bdbdbd" stroke-width="2.0" fill="none" stroke-linecap="round"/>
<circle cx="450.1" cy="271.4" r="1.1" fill="#87c9e6"/>
<circle cx="450.9" cy="273.4" r="1.1" fill="#87c9e6"/>
<circle cx="451.6" cy="275.2" r="1.1" fill="#87c9e6"/>
<circle cx="452.4" cy="276.9" r="1.1" fill="#87c9e6"/>
<circle cx="453.0" cy="278.2" r="1.1" fill="#87c9e6"/>
<circle cx="476.4" cy="293.4" r="1.15" fill="#87c9e6"/>
<path d="M505.0,287.0 L510.7,287.0" stroke="#bdbdbd" stroke-width="2.2" fill="none"/>
<path d="M515.4,314.5 L515.4,341.7" stroke="#c8c8c8" stroke-width="1.4" fill="none" stroke-dasharray="1.0,0.9"/>
<path d="M497.40,259.60 C497.43,261.17 497.22,265.70 497.60,269.00 C497.98,272.30 498.97,276.82 499.70,279.40 C500.43,281.98 501.13,283.23 502.00,284.50 C502.87,285.77 504.42,286.58 504.90,287.00" stroke="#87c9e6" stroke-width="2.5" fill="none" stroke-linecap="round"/>
<path d="M510.70,287.00 C511.07,288.17 512.30,291.62 512.90,294.00 C513.50,296.38 513.88,298.25 514.30,301.30 C514.72,304.35 515.22,310.47 515.40,312.30" stroke="#87c9e6" stroke-width="2.5" fill="none" stroke-linecap="round"/>
<circle cx="17.9" cy="267.5" r="1.1" fill="#87c9e6"/>
<circle cx="18.0" cy="269.3" r="1.1" fill="#87c9e6"/>
<circle cx="243.2" cy="307.6" r="1.1" fill="#87c9e6"/>
<circle cx="289.5" cy="309.3" r="1.1" fill="#87c9e6"/>
<circle cx="305.7" cy="253.5" r="1.1" fill="#87c9e6"/>
<circle cx="305.7" cy="256.6" r="1.1" fill="#87c9e6"/>
<circle cx="305.8" cy="260.4" r="1.1" fill="#87c9e6"/>
<circle cx="305.8" cy="264.2" r="1.1" fill="#87c9e6"/>
<circle cx="305.9" cy="267.0" r="1.1" fill="#87c9e6"/>
<circle cx="353.3" cy="239.2" r="1.1" fill="#87c9e6"/>
<circle cx="353.4" cy="244.5" r="1.1" fill="#87c9e6"/>
<circle cx="353.4" cy="249.0" r="1.1" fill="#87c9e6"/>
<circle cx="353.5" cy="253.0" r="1.1" fill="#87c9e6"/>
<circle cx="353.5" cy="256.5" r="1.1" fill="#87c9e6"/>
<circle cx="544.2" cy="256.7" r="1.1" fill="#87c9e6"/>
<circle cx="544.4" cy="259.0" r="1.1" fill="#87c9e6"/>
<circle cx="590.6" cy="260.5" r="1.1" fill="#87c9e6"/>
<line x1="21.7" y1="253.5" x2="18.3" y2="268.5" stroke="#111" stroke-width="0.6"/>
<line x1="22.5" y1="254.5" x2="18.6" y2="269.5" stroke="#111" stroke-width="0.6"/>
<line x1="23.3" y1="255.5" x2="19.0" y2="270.5" stroke="#111" stroke-width="0.6"/>
<line x1="24.5" y1="257.5" x2="19.2" y2="271.0" stroke="#111" stroke-width="0.6"/>
<line x1="56.0" y1="311.5" x2="57.0" y2="309" stroke="#111" stroke-width="0.6"/>
<line x1="71.5" y1="259.0" x2="66.0" y2="274.0" stroke="#111" stroke-width="0.6"/>
<line x1="72.5" y1="259.5" x2="66.3" y2="274.5" stroke="#111" stroke-width="0.6"/>
<line x1="99.0" y1="248.5" x2="95.5" y2="304.5" stroke="#111" stroke-width="0.6"/>
<line x1="98.5" y1="262.5" x2="95.3" y2="304.0" stroke="#111" stroke-width="0.6"/>
<line x1="116.6" y1="247.0" x2="113.6" y2="269.5" stroke="#111" stroke-width="0.6"/>
<line x1="115.5" y1="256.5" x2="114.0" y2="268.5" stroke="#111" stroke-width="0.6"/>
<line x1="163.5" y1="256.0" x2="161.2" y2="271.0" stroke="#111" stroke-width="0.6"/>
<line x1="164.0" y1="257.0" x2="161.4" y2="271.0" stroke="#111" stroke-width="0.6"/>
<line x1="213.0" y1="256.0" x2="209.6" y2="271.0" stroke="#111" stroke-width="0.6"/>
<line x1="214.0" y1="261.0" x2="209.9" y2="271.0" stroke="#111" stroke-width="0.6"/>
<line x1="245.0" y1="265.0" x2="243.8" y2="307.0" stroke="#111" stroke-width="0.6"/>
<line x1="243.0" y1="283.0" x2="243.6" y2="307.0" stroke="#111" stroke-width="0.6"/>
<line x1="260.0" y1="249.0" x2="257.5" y2="265.5" stroke="#111" stroke-width="0.6"/>
<line x1="261.0" y1="254.0" x2="257.7" y2="265.5" stroke="#111" stroke-width="0.6"/>
<line x1="306.5" y1="241.0" x2="305.7" y2="254.0" stroke="#111" stroke-width="0.6"/>
<line x1="307.5" y1="246.5" x2="305.9" y2="254.0" stroke="#111" stroke-width="0.6"/>
<line x1="339.0" y1="313.5" x2="337.2" y2="322.0" stroke="#111" stroke-width="0.6"/>
<line x1="337.0" y1="321.0" x2="337.2" y2="324.0" stroke="#111" stroke-width="0.6"/>
<line x1="356.0" y1="226.0" x2="353.3" y2="239.2" stroke="#111" stroke-width="0.6"/>
<line x1="355.0" y1="240.5" x2="353.3" y2="253.8" stroke="#111" stroke-width="0.6"/>
<line x1="387.0" y1="320.5" x2="386.9" y2="332.0" stroke="#111" stroke-width="0.6"/>
<line x1="403.1" y1="241.0" x2="401.1" y2="256.7" stroke="#111" stroke-width="0.6"/>
<line x1="404.0" y1="246.5" x2="401.2" y2="256.7" stroke="#111" stroke-width="0.6"/>
<line x1="436.0" y1="311.0" x2="437.2" y2="318.0" stroke="#111" stroke-width="0.6"/>
<line x1="452.5" y1="254.5" x2="450.1" y2="271.4" stroke="#111" stroke-width="0.6"/>
<line x1="454.0" y1="260.0" x2="451.2" y2="274.5" stroke="#111" stroke-width="0.6"/>
<line x1="456.5" y1="265.5" x2="453.0" y2="278.2" stroke="#111" stroke-width="0.6"/>
<line x1="476.4" y1="280.0" x2="476.4" y2="293.3" stroke="#111" stroke-width="0.6"/>
<line x1="498.0" y1="241.0" x2="497.4" y2="259.6" stroke="#111" stroke-width="0.6"/>
<line x1="518.5" y1="290.5" x2="515.4" y2="312.0" stroke="#111" stroke-width="0.6"/>
<line x1="520.5" y1="296.5" x2="515.6" y2="312.0" stroke="#111" stroke-width="0.6"/>
<line x1="519.5" y1="297.0" x2="515.2" y2="311.0" stroke="#111" stroke-width="0.6"/>
<line x1="548.0" y1="241.5" x2="544.2" y2="256.7" stroke="#111" stroke-width="0.6"/>
<line x1="550.5" y1="247.0" x2="544.5" y2="256.7" stroke="#111" stroke-width="0.6"/>
<line x1="578.4" y1="274.0" x2="580.0" y2="293.0" stroke="#111" stroke-width="0.6"/>
<line x1="580.0" y1="293.0" x2="583.2" y2="315.1" stroke="#111" stroke-width="0.6"/>
<line x1="596.5" y1="248.0" x2="592.6" y2="261.5" stroke="#111" stroke-width="0.6"/>
<line x1="597.5" y1="251.5" x2="592.8" y2="261.5" stroke="#111" stroke-width="0.6"/>
<line x1="633.5" y1="319.5" x2="634.0" y2="345.5" stroke="#111" stroke-width="0.6"/>
<line x1="632.5" y1="331.0" x2="633.8" y2="345.5" stroke="#111" stroke-width="0.6"/>
<line x1="642.5" y1="244.5" x2="640.1" y2="261.5" stroke="#111" stroke-width="0.6"/>
<line x1="643.5" y1="249.5" x2="640.3" y2="261.5" stroke="#111" stroke-width="0.6"/>
<line x1="679.0" y1="306.5" x2="680.6" y2="318.4" stroke="#111" stroke-width="0.6"/>
<line x1="680.6" y1="318.4" x2="675.5" y2="337.5" stroke="#111" stroke-width="0.6"/>
<text x="17.30" y="252.60" font-size="4.8" fill="#111" color="#111" text-anchor="start" >TPSAB1</text>
<text x="18.20" y="258.40" font-size="4.8" fill="#111" color="#111" text-anchor="start" >MMP10</text>
<text x="40.00" y="311.00" font-size="4.8" fill="#111" color="#111" text-anchor="start" >CDCA8</text>
<text x="45.90" y="315.90" font-size="4.8" fill="#111" color="#111" text-anchor="start" >SPC25</text>
<text x="66.90" y="257.50" font-size="4.8" fill="#111" color="#111" text-anchor="start" >IFNG-AS1</text>
<text x="69.90" y="263.70" font-size="4.8" fill="#111" color="#111" text-anchor="start" >ITGA5</text>
<text x="93.20" y="247.30" font-size="4.8" fill="#111" color="#111" text-anchor="start" >APOD</text>
<text x="92.60" y="261.90" font-size="4.8" fill="#111" color="#111" text-anchor="start" >PMP22</text>
<text x="112.80" y="246.70" font-size="4.8" fill="#111" color="#111" text-anchor="start" >CLC</text>
<text x="112.80" y="256.10" font-size="4.8" fill="#111" color="#111" text-anchor="start" >IDO1</text>
<text x="140.80" y="309.50" font-size="4.8" fill="#111" color="#111" text-anchor="start" >ACTG2</text>
<text x="141.40" y="315.30" font-size="4.8" fill="#111" color="#111" text-anchor="start" >GDF15</text>
<text x="161.20" y="255.50" font-size="4.8" fill="#111" color="#111" text-anchor="start" >CALY</text>
<text x="161.20" y="260.70" font-size="4.8" fill="#111" color="#111" text-anchor="start" >HPCAL4</text>
<text x="191.00" y="315.30" font-size="4.8" fill="#111" color="#111" text-anchor="start" >MND1</text>
<text x="186.60" y="321.70" font-size="4.8" fill="#111" color="#111" text-anchor="start" >TPSAB1</text>
<text x="209.60" y="254.90" font-size="4.8" fill="#111" color="#111" text-anchor="start" >FAM111B</text>
<text x="211.70" y="260.70" font-size="4.8" fill="#111" color="#111" text-anchor="start" >EXO1</text>
<text x="238.80" y="264.30" font-size="4.8" fill="#111" color="#111" text-anchor="start" >IGFL2</text>
<text x="232.10" y="282.40" font-size="4.8" fill="#111" color="#111" text-anchor="start" >TCP11L2</text>
<text x="256.90" y="248.20" font-size="4.8" fill="#111" color="#111" text-anchor="start" >PDE9A</text>
<text x="256.90" y="253.50" font-size="4.8" fill="#111" color="#111" text-anchor="start" >TNFSF11</text>
<text x="286.10" y="314.50" font-size="4.8" fill="#111" color="#111" text-anchor="start" >BIRC5</text>
<text x="284.70" y="321.20" font-size="4.8" fill="#111" color="#111" text-anchor="start" >CXCR1</text>
<text x="304.50" y="240.00" font-size="4.8" fill="#111" color="#111" text-anchor="start" >IGHV3-5</text>
<text x="304.50" y="245.90" font-size="4.8" fill="#111" color="#111" text-anchor="start" >IGHV3-13</text>
<text x="334.30" y="313.30" font-size="4.8" fill="#111" color="#111" text-anchor="start" >AICDA</text>
<text x="328.50" y="325.60" font-size="4.8" fill="#111" color="#111" text-anchor="start" >C12orf77</text>
<text x="352.40" y="224.80" font-size="4.8" fill="#111" color="#111" text-anchor="start" >LYPD2</text>
<text x="352.40" y="239.40" font-size="4.8" fill="#111" color="#111" text-anchor="start" >CXCR1</text>
<text x="364.10" y="312.40" font-size="4.8" fill="#111" color="#111" text-anchor="start" >PLA2G2D</text>
<text x="383.40" y="320.30" font-size="4.8" fill="#111" color="#111" text-anchor="start" >CD5L</text>
<text x="401.10" y="240.00" font-size="4.8" fill="#111" color="#111" text-anchor="start" >CCL22</text>
<text x="401.10" y="245.90" font-size="4.8" fill="#111" color="#111" text-anchor="start" >NCCRP1</text>
<text x="422.70" y="311.80" font-size="4.8" fill="#111" color="#111" text-anchor="start" >MND1</text>
<text x="421.20" y="318.60" font-size="4.8" fill="#111" color="#111" text-anchor="start" >SPC25</text>
<text x="451.00" y="252.80" font-size="4.8" fill="#111" color="#111" text-anchor="start" >INPP4A</text>
<text x="450.60" y="258.90" font-size="4.8" fill="#111" color="#111" text-anchor="start" >MPEG1</text>
<text x="451.00" y="264.70" font-size="4.8" fill="#111" color="#111" text-anchor="start" >SPCS1</text>
<text x="464.20" y="278.90" font-size="4.8" fill="#111" color="#111" text-anchor="start" >HLA-DRB1</text>
<text x="498.00" y="240.00" font-size="4.8" fill="#111" color="#111" text-anchor="start" >RHEX</text>
<text x="498.00" y="246.10" font-size="4.8" fill="#111" color="#111" text-anchor="start" >C1orf162</text>
<text x="513.60" y="289.20" font-size="4.8" fill="#111" color="#111" text-anchor="start" >PPTC7</text>
<text x="516.30" y="295.70" font-size="4.8" fill="#111" color="#111" text-anchor="start" >FAM241A</text>
<text x="544.20" y="240.00" font-size="4.8" fill="#111" color="#111" text-anchor="start" >AC068987.2</text>
<text x="547.70" y="246.20" font-size="4.8" fill="#111" color="#111" text-anchor="start" >CXCL10</text>
<text x="576.00" y="273.60" font-size="4.8" fill="#111" color="#111" text-anchor="start" >GJA5</text>
<text x="575.10" y="322.70" font-size="4.8" fill="#111" color="#111" text-anchor="start" >MYL2</text>
<text x="591.90" y="244.50" font-size="4.8" fill="#111" color="#111" text-anchor="start" >COL11A1</text>
<text x="591.90" y="250.70" font-size="4.8" fill="#111" color="#111" text-anchor="start" >AC358417.2</text>
<text x="617.10" y="319.00" font-size="4.8" fill="#111" color="#111" text-anchor="start" >CASQ2</text>
<text x="617.10" y="331.00" font-size="4.8" fill="#111" color="#111" text-anchor="start" >RERGL</text>
<text x="639.70" y="242.80" font-size="4.8" fill="#111" color="#111" text-anchor="start" >MUCL3</text>
<text x="639.70" y="248.90" font-size="4.8" fill="#111" color="#111" text-anchor="start" >DAND5</text>
<text x="665.70" y="306.90" font-size="4.8" fill="#111" color="#111" text-anchor="start" >TIMP1</text>
<text x="658.10" y="340.90" font-size="4.8" fill="#111" color="#111" text-anchor="start" >HIF1A-AS2</text>
<text x="17.00" y="229.40" font-size="8.5" fill="#555" color="#555" text-anchor="start" style="stroke-width:0">n=8396</text>
<text x="60.85" y="352.00" font-size="8.5" fill="#555" color="#555" text-anchor="end" style="stroke-width:0">n=3927</text>
<text x="64.84" y="229.40" font-size="8.5" fill="#555" color="#555" text-anchor="start" style="stroke-width:0">n=1845</text>
<text x="108.69" y="352.00" font-size="8.5" fill="#555" color="#555" text-anchor="end" style="stroke-width:0">n=3540</text>
<text x="112.68" y="229.40" font-size="8.5" fill="#555" color="#555" text-anchor="start" style="stroke-width:0">n=1851</text>
<text x="156.53" y="352.00" font-size="8.5" fill="#555" color="#555" text-anchor="end" style="stroke-width:0">n=5230</text>
<text x="160.52" y="229.40" font-size="8.5" fill="#555" color="#555" text-anchor="start" style="stroke-width:0">n=1646</text>
<text x="204.37" y="352.00" font-size="8.5" fill="#555" color="#555" text-anchor="end" style="stroke-width:0">n=3508</text>
<text x="208.36" y="229.40" font-size="8.5" fill="#555" color="#555" text-anchor="start" style="stroke-width:0">n=2091</text>
<text x="252.21" y="352.00" font-size="8.5" fill="#555" color="#555" text-anchor="end" style="stroke-width:0">n=1927</text>
<text x="256.20" y="229.40" font-size="8.5" fill="#555" color="#555" text-anchor="start" style="stroke-width:0">n=1038</text>
<text x="300.05" y="352.00" font-size="8.5" fill="#555" color="#555" text-anchor="end" style="stroke-width:0">n=1551</text>
<text x="304.04" y="229.40" font-size="8.5" fill="#555" color="#555" text-anchor="start" style="stroke-width:0">n=273</text>
<text x="347.89" y="352.00" font-size="8.5" fill="#555" color="#555" text-anchor="end" style="stroke-width:0">n=8870</text>
<text x="395.73" y="229.40" font-size="8.5" fill="#555" color="#555" text-anchor="end" style="stroke-width:0">n=3299</text>
<text x="395.73" y="352.00" font-size="8.5" fill="#555" color="#555" text-anchor="end" style="stroke-width:0">n=4368</text>
<text x="399.72" y="229.40" font-size="8.5" fill="#555" color="#555" text-anchor="start" style="stroke-width:0">n=1302</text>
<text x="443.57" y="352.00" font-size="8.5" fill="#555" color="#555" text-anchor="end" style="stroke-width:0">n=4166</text>
<text x="447.56" y="229.40" font-size="8.5" fill="#555" color="#555" text-anchor="start" style="stroke-width:0">n=5</text>
<text x="491.41" y="352.00" font-size="8.5" fill="#555" color="#555" text-anchor="end" style="stroke-width:0">n=1</text>
<text x="495.40" y="229.40" font-size="8.5" fill="#555" color="#555" text-anchor="start" style="stroke-width:0">n=217</text>
<text x="539.25" y="352.00" font-size="8.5" fill="#555" color="#555" text-anchor="end" style="stroke-width:0">n=89</text>
<text x="543.24" y="229.40" font-size="8.5" fill="#555" color="#555" text-anchor="start" style="stroke-width:0">n=2588</text>
<text x="587.09" y="352.00" font-size="8.5" fill="#555" color="#555" text-anchor="end" style="stroke-width:0">n=5930</text>
<text x="591.08" y="229.40" font-size="8.5" fill="#555" color="#555" text-anchor="start" style="stroke-width:0">n=6401</text>
<text x="634.93" y="352.00" font-size="8.5" fill="#555" color="#555" text-anchor="end" style="stroke-width:0">n=3733</text>
<text x="638.92" y="229.40" font-size="8.5" fill="#555" color="#555" text-anchor="start" style="stroke-width:0">n=3308</text>
<text x="682.77" y="352.00" font-size="8.5" fill="#555" color="#555" text-anchor="end" style="stroke-width:0">n=5062</text>
<line x1="15.0" y1="222.66" x2="16.5" y2="222.66" stroke="#444" stroke-width="0.5"/>
<text x="14.30" y="223.96" font-size="3.6" fill="#444" color="#444" text-anchor="end" >8</text>
<line x1="15.0" y1="254.98" x2="16.5" y2="254.98" stroke="#444" stroke-width="0.5"/>
<text x="14.30" y="256.28" font-size="3.6" fill="#444" color="#444" text-anchor="end" >4</text>
<line x1="15.0" y1="287.30" x2="16.5" y2="287.30" stroke="#444" stroke-width="0.5"/>
<text x="14.30" y="288.60" font-size="3.6" fill="#444" color="#444" text-anchor="end" >0</text>
<line x1="15.0" y1="319.62" x2="16.5" y2="319.62" stroke="#444" stroke-width="0.5"/>
<text x="14.30" y="320.92" font-size="3.6" fill="#444" color="#444" text-anchor="end" >-4</text>
<line x1="15.0" y1="351.94" x2="16.5" y2="351.94" stroke="#444" stroke-width="0.5"/>
<text x="14.30" y="353.24" font-size="3.6" fill="#444" color="#444" text-anchor="end" >-8</text>
<text x="8.7" y="287.7" font-size="7.65" fill="#222" color="#222" text-anchor="middle" transform="rotate(-90 8.7 287.7)">LogFC</text>
<text x="340.90" y="365.40" font-size="7.35" fill="#222" color="#222" text-anchor="start" >Rank</text>
<text x="517.30" y="372.80" font-size="7.15" fill="#222" color="#222" text-anchor="start" >Significance</text>
<circle cx="568.3" cy="370.3" r="1.0" fill="#c8c8c8"/>
<text x="572.40" y="372.30" font-size="5.9" fill="#222" color="#222" text-anchor="start" >Non−significant</text>
<circle cx="625.0" cy="370.3" r="1.5" fill="#87c9e6"/>
<text x="629.20" y="372.30" font-size="5.9" fill="#222" color="#222" text-anchor="start" >Significant</text>
<text x="-0.40" y="379.60" font-size="16.0" fill="#222" color="#222" text-anchor="start" style="stroke-width:0">D.</text>
<path d="M20.50,412.6V892.8M30.97,412.6V892.8M41.44,412.6V892.8M51.91,412.6V892.8M62.38,412.6V892.8M72.85,412.6V892.8M83.32,412.6V892.8M93.79,412.6V892.8M104.26,412.6V892.8M114.73,412.6V892.8M125.20,412.6V892.8M135.67,412.6V892.8M146.14,412.6V892.8M156.61,412.6V892.8M14.55,417.80H163.0M14.55,426.82H163.0M14.55,435.85H163.0M14.55,444.88H163.0M14.55,453.90H163.0M14.55,462.93H163.0M14.55,471.95H163.0M14.55,480.98H163.0M14.55,490.00H163.0M14.55,499.03H163.0M14.55,508.05H163.0M14.55,517.08H163.0M14.55,526.10H163.0M14.55,535.12H163.0M14.55,544.15H163.0M14.55,553.17H163.0M14.55,562.20H163.0M14.55,571.23H163.0M14.55,580.25H163.0M14.55,589.27H163.0M14.55,598.30H163.0M14.55,607.33H163.0M14.55,616.35H163.0M14.55,625.38H163.0M14.55,634.40H163.0M14.55,643.42H163.0M14.55,652.45H163.0M14.55,661.48H163.0M14.55,670.50H163.0M14.55,679.53H163.0M14.55,688.55H163.0M14.55,697.58H163.0M14.55,706.60H163.0M14.55,715.62H163.0M14.55,724.65H163.0M14.55,733.67H163.0M14.55,742.70H163.0M14.55,751.73H163.0M14.55,760.75H163.0M14.55,769.78H163.0M14.55,778.80H163.0M14.55,787.83H163.0M14.55,796.85H163.0M14.55,805.88H163.0M14.55,814.90H163.0M14.55,823.92H163.0M14.55,832.95H163.0M14.55,841.98H163.0M14.55,851.00H163.0M14.55,860.03H163.0M14.55,869.05H163.0M14.55,878.08H163.0M14.55,887.10H163.0" stroke="#ebebeb" stroke-width="0.8" fill="none"/>
<rect x="14.55" y="412.6" width="148.45" height="480.20" fill="none" stroke="#4a4a4a" stroke-width="1.05"/>
<line x1="20.50" y1="411.20000000000005" x2="20.50" y2="412.6" stroke="#333" stroke-width="0.45"/>
<line x1="30.97" y1="411.20000000000005" x2="30.97" y2="412.6" stroke="#333" stroke-width="0.45"/>
<line x1="41.44" y1="411.20000000000005" x2="41.44" y2="412.6" stroke="#333" stroke-width="0.45"/>
<line x1="51.91" y1="411.20000000000005" x2="51.91" y2="412.6" stroke="#333" stroke-width="0.45"/>
<line x1="62.38" y1="411.20000000000005" x2="62.38" y2="412.6" stroke="#333" stroke-width="0.45"/>
<line x1="72.85" y1="411.20000000000005" x2="72.85" y2="412.6" stroke="#333" stroke-width="0.45"/>
<line x1="83.32" y1="411.20000000000005" x2="83.32" y2="412.6" stroke="#333" stroke-width="0.45"/>
<line x1="93.79" y1="411.20000000000005" x2="93.79" y2="412.6" stroke="#333" stroke-width="0.45"/>
<line x1="104.26" y1="411.20000000000005" x2="104.26" y2="412.6" stroke="#333" stroke-width="0.45"/>
<line x1="114.73" y1="411.20000000000005" x2="114.73" y2="412.6" stroke="#333" stroke-width="0.45"/>
<line x1="125.20" y1="411.20000000000005" x2="125.20" y2="412.6" stroke="#333" stroke-width="0.45"/>
<line x1="135.67" y1="411.20000000000005" x2="135.67" y2="412.6" stroke="#333" stroke-width="0.45"/>
<line x1="146.14" y1="411.20000000000005" x2="146.14" y2="412.6" stroke="#333" stroke-width="0.45"/>
<line x1="156.61" y1="411.20000000000005" x2="156.61" y2="412.6" stroke="#333" stroke-width="0.45"/>
<line x1="163.0" y1="417.80" x2="164.4" y2="417.80" stroke="#333" stroke-width="0.45"/>
<line x1="163.0" y1="426.82" x2="164.4" y2="426.82" stroke="#333" stroke-width="0.45"/>
<line x1="163.0" y1="435.85" x2="164.4" y2="435.85" stroke="#333" stroke-width="0.45"/>
<line x1="163.0" y1="444.88" x2="164.4" y2="444.88" stroke="#333" stroke-width="0.45"/>
<line x1="163.0" y1="453.90" x2="164.4" y2="453.90" stroke="#333" stroke-width="0.45"/>
<line x1="163.0" y1="462.93" x2="164.4" y2="462.93" stroke="#333" stroke-width="0.45"/>
<line x1="163.0" y1="471.95" x2="164.4" y2="471.95" stroke="#333" stroke-width="0.45"/>
<line x1="163.0" y1="480.98" x2="164.4" y2="480.98" stroke="#333" stroke-width="0.45"/>
<line x1="163.0" y1="490.00" x2="164.4" y2="490.00" stroke="#333" stroke-width="0.45"/>
<line x1="163.0" y1="499.03" x2="164.4" y2="499.03" stroke="#333" stroke-width="0.45"/>
<line x1="163.0" y1="508.05" x2="164.4" y2="508.05" stroke="#333" stroke-width="0.45"/>
<line x1="163.0" y1="517.08" x2="164.4" y2="517.08" stroke="#333" stroke-width="0.45"/>
<line x1="163.0" y1="526.10" x2="164.4" y2="526.10" stroke="#333" stroke-width="0.45"/>
<line x1="163.0" y1="535.12" x2="164.4" y2="535.12" stroke="#333" stroke-width="0.45"/>
<line x1="163.0" y1="544.15" x2="164.4" y2="544.15" stroke="#333" stroke-width="0.45"/>
<line x1="163.0" y1="553.17" x2="164.4" y2="553.17" stroke="#333" stroke-width="0.45"/>
<line x1="163.0" y1="562.20" x2="164.4" y2="562.20" stroke="#333" stroke-width="0.45"/>
<line x1="163.0" y1="571.23" x2="164.4" y2="571.23" stroke="#333" stroke-width="0.45"/>
<line x1="163.0" y1="580.25" x2="164.4" y2="580.25" stroke="#333" stroke-width="0.45"/>
<line x1="163.0" y1="589.27" x2="164.4" y2="589.27" stroke="#333" stroke-width="0.45"/>
<line x1="163.0" y1="598.30" x2="164.4" y2="598.30" stroke="#333" stroke-width="0.45"/>
<line x1="163.0" y1="607.33" x2="164.4" y2="607.33" stroke="#333" stroke-width="0.45"/>
<line x1="163.0" y1="616.35" x2="164.4" y2="616.35" stroke="#333" stroke-width="0.45"/>
<line x1="163.0" y1="625.38" x2="164.4" y2="625.38" stroke="#333" stroke-width="0.45"/>
<line x1="163.0" y1="634.40" x2="164.4" y2="634.40" stroke="#333" stroke-width="0.45"/>
<line x1="163.0" y1="643.42" x2="164.4" y2="643.42" stroke="#333" stroke-width="0.45"/>
<line x1="163.0" y1="652.45" x2="164.4" y2="652.45" stroke="#333" stroke-width="0.45"/>
<line x1="163.0" y1="661.48" x2="164.4" y2="661.48" stroke="#333" stroke-width="0.45"/>
<line x1="163.0" y1="670.50" x2="164.4" y2="670.50" stroke="#333" stroke-width="0.45"/>
<line x1="163.0" y1="679.53" x2="164.4" y2="679.53" stroke="#333" stroke-width="0.45"/>
<line x1="163.0" y1="688.55" x2="164.4" y2="688.55" stroke="#333" stroke-width="0.45"/>
<line x1="163.0" y1="697.58" x2="164.4" y2="697.58" stroke="#333" stroke-width="0.45"/>
<line x1="163.0" y1="706.60" x2="164.4" y2="706.60" stroke="#333" stroke-width="0.45"/>
<line x1="163.0" y1="715.62" x2="164.4" y2="715.62" stroke="#333" stroke-width="0.45"/>
<line x1="163.0" y1="724.65" x2="164.4" y2="724.65" stroke="#333" stroke-width="0.45"/>
<line x1="163.0" y1="733.67" x2="164.4" y2="733.67" stroke="#333" stroke-width="0.45"/>
<line x1="163.0" y1="742.70" x2="164.4" y2="742.70" stroke="#333" stroke-width="0.45"/>
<line x1="163.0" y1="751.73" x2="164.4" y2="751.73" stroke="#333" stroke-width="0.45"/>
<line x1="163.0" y1="760.75" x2="164.4" y2="760.75" stroke="#333" stroke-width="0.45"/>
<line x1="163.0" y1="769.78" x2="164.4" y2="769.78" stroke="#333" stroke-width="0.45"/>
<line x1="163.0" y1="778.80" x2="164.4" y2="778.80" stroke="#333" stroke-width="0.45"/>
<line x1="163.0" y1="787.83" x2="164.4" y2="787.83" stroke="#333" stroke-width="0.45"/>
<line x1="163.0" y1="796.85" x2="164.4" y2="796.85" stroke="#333" stroke-width="0.45"/>
<line x1="163.0" y1="805.88" x2="164.4" y2="805.88" stroke="#333" stroke-width="0.45"/>
<line x1="163.0" y1="814.90" x2="164.4" y2="814.90" stroke="#333" stroke-width="0.45"/>
<line x1="163.0" y1="823.92" x2="164.4" y2="823.92" stroke="#333" stroke-width="0.45"/>
<line x1="163.0" y1="832.95" x2="164.4" y2="832.95" stroke="#333" stroke-width="0.45"/>
<line x1="163.0" y1="841.98" x2="164.4" y2="841.98" stroke="#333" stroke-width="0.45"/>
<line x1="163.0" y1="851.00" x2="164.4" y2="851.00" stroke="#333" stroke-width="0.45"/>
<line x1="163.0" y1="860.03" x2="164.4" y2="860.03" stroke="#333" stroke-width="0.45"/>
<line x1="163.0" y1="869.05" x2="164.4" y2="869.05" stroke="#333" stroke-width="0.45"/>
<line x1="163.0" y1="878.08" x2="164.4" y2="878.08" stroke="#333" stroke-width="0.45"/>
<line x1="163.0" y1="887.10" x2="164.4" y2="887.10" stroke="#333" stroke-width="0.45"/>
<circle cx="20.50" cy="417.80" r="3.22" fill="#f7b6a2"/>
<circle cx="146.14" cy="417.80" r="3.32" fill="#f5a287"/>
<circle cx="20.50" cy="426.82" r="3.12" fill="#f7b6a2"/>
<circle cx="72.85" cy="426.82" r="3.02" fill="#f7b6a2"/>
<circle cx="104.26" cy="426.82" r="3.22" fill="#f29178"/>
<circle cx="135.67" cy="426.82" r="3.12" fill="#f7b6a2"/>
<circle cx="20.50" cy="435.85" r="2.62" fill="#f7b6a2"/>
<circle cx="20.50" cy="444.88" r="3.62" fill="#6f5ba8"/>
<circle cx="51.91" cy="444.88" r="3.27" fill="#ae98d0"/>
<circle cx="62.38" cy="444.88" r="3.52" fill="#f5a287"/>
<circle cx="72.85" cy="444.88" r="3.27" fill="#c2b0dc"/>
<circle cx="83.32" cy="444.88" r="3.27" fill="#c2b0dc"/>
<circle cx="104.26" cy="444.88" r="3.27" fill="#ae98d0"/>
<circle cx="20.50" cy="453.90" r="3.42" fill="#6f5ba8"/>
<circle cx="51.91" cy="453.90" r="3.12" fill="#ae98d0"/>
<circle cx="72.85" cy="453.90" r="3.12" fill="#ae98d0"/>
<circle cx="83.32" cy="453.90" r="3.12" fill="#ae98d0"/>
<circle cx="104.26" cy="453.90" r="3.12" fill="#ae98d0"/>
<circle cx="114.73" cy="453.90" r="3.12" fill="#c2b0dc"/>
<circle cx="20.50" cy="462.93" r="3.62" fill="#6f5ba8"/>
<circle cx="51.91" cy="462.93" r="3.22" fill="#ae98d0"/>
<circle cx="114.73" cy="462.93" r="3.22" fill="#c2b0dc"/>
<circle cx="30.97" cy="471.95" r="2.62" fill="#f5a287"/>
<circle cx="41.44" cy="471.95" r="2.62" fill="#f7b6a2"/>
<circle cx="30.97" cy="480.98" r="2.27" fill="#f5a287"/>
<circle cx="30.97" cy="490.00" r="2.42" fill="#f5a287"/>
<circle cx="30.97" cy="499.03" r="3.12" fill="#ae98d0"/>
<circle cx="30.97" cy="508.05" r="3.12" fill="#9c86c6"/>
<circle cx="125.20" cy="508.05" r="2.92" fill="#f8c2b2"/>
<circle cx="30.97" cy="517.08" r="3.12" fill="#9c86c6"/>
<circle cx="93.79" cy="517.08" r="3.12" fill="#ae98d0"/>
<circle cx="125.20" cy="517.08" r="2.92" fill="#f8c2b2"/>
<circle cx="41.44" cy="526.10" r="2.82" fill="#f5a287"/>
<circle cx="135.67" cy="526.10" r="3.22" fill="#f29178"/>
<circle cx="41.44" cy="535.12" r="2.12" fill="#f5a287"/>
<circle cx="41.44" cy="544.15" r="3.12" fill="#ae98d0"/>
<circle cx="135.67" cy="544.15" r="3.12" fill="#ae98d0"/>
<circle cx="41.44" cy="553.17" r="3.42" fill="#c2b0dc"/>
<circle cx="41.44" cy="562.20" r="3.12" fill="#ae98d0"/>
<circle cx="51.91" cy="571.23" r="2.32" fill="#f5a287"/>
<circle cx="51.91" cy="580.25" r="2.47" fill="#f5a287"/>
<circle cx="51.91" cy="589.27" r="2.82" fill="#f7b6a2"/>
<circle cx="62.38" cy="598.30" r="3.52" fill="#f29178"/>
<circle cx="62.38" cy="607.33" r="3.72" fill="#f7b6a2"/>
<circle cx="62.38" cy="616.35" r="3.12" fill="#ae98d0"/>
<circle cx="62.38" cy="625.38" r="2.62" fill="#ae98d0"/>
<circle cx="62.38" cy="634.40" r="2.47" fill="#ae98d0"/>
<circle cx="72.85" cy="643.42" r="2.92" fill="#f5a287"/>
<circle cx="104.26" cy="643.42" r="2.92" fill="#f5a287"/>
<circle cx="135.67" cy="643.42" r="3.02" fill="#f5a287"/>
<circle cx="72.85" cy="652.45" r="2.77" fill="#f5a287"/>
<circle cx="156.61" cy="652.45" r="2.92" fill="#f7b6a2"/>
<circle cx="72.85" cy="661.48" r="3.12" fill="#9c86c6"/>
<circle cx="83.32" cy="661.48" r="3.12" fill="#8c76bc"/>
<circle cx="83.32" cy="670.50" r="1.52" fill="#f5a287"/>
<circle cx="83.32" cy="679.53" r="2.52" fill="#f5a287"/>
<circle cx="83.32" cy="688.55" r="2.52" fill="#f7b6a2"/>
<circle cx="93.79" cy="697.58" r="3.57" fill="#f7b6a2"/>
<circle cx="114.73" cy="697.58" r="3.52" fill="#ae98d0"/>
<circle cx="93.79" cy="706.60" r="3.62" fill="#f8c2b2"/>
<circle cx="93.79" cy="715.62" r="3.47" fill="#f7b6a2"/>
<circle cx="93.79" cy="724.65" r="3.27" fill="#ae98d0"/>
<circle cx="93.79" cy="733.67" r="2.97" fill="#ae98d0"/>
<circle cx="104.26" cy="742.70" r="2.92" fill="#f29178"/>
<circle cx="104.26" cy="751.73" r="3.37" fill="#9c86c6"/>
<circle cx="114.73" cy="760.75" r="1.32" fill="#f5a287"/>
<circle cx="114.73" cy="769.78" r="2.77" fill="#f7b6a2"/>
<circle cx="125.20" cy="778.80" r="2.97" fill="#f7b6a2"/>
<circle cx="135.67" cy="787.83" r="2.72" fill="#ae98d0"/>
<circle cx="135.67" cy="796.85" r="2.72" fill="#ae98d0"/>
<circle cx="146.14" cy="805.88" r="3.12" fill="#f5a287"/>
<circle cx="146.14" cy="814.90" r="2.92" fill="#f5a287"/>
<circle cx="146.14" cy="823.92" r="3.22" fill="#9c86c6"/>
<circle cx="146.14" cy="832.95" r="3.12" fill="#ae98d0"/>
<circle cx="146.14" cy="841.98" r="3.52" fill="#c2b0dc"/>
<circle cx="156.61" cy="851.00" r="3.12" fill="#f7b6a2"/>
<circle cx="156.61" cy="860.03" r="2.37" fill="#f5a287"/>
<circle cx="156.61" cy="869.05" r="3.62" fill="#c2b0dc"/>
<circle cx="156.61" cy="878.08" r="3.22" fill="#ae98d0"/>
<circle cx="156.61" cy="887.10" r="2.72" fill="#ae98d0"/>
<text x="165.80" y="420.55" font-size="8.35" fill="#1aa35a" color="#1aa35a" text-anchor="start" >Reactome ECM organization</text>
<text x="165.80" y="429.57" font-size="8.35" fill="#f59b3a" color="#f59b3a" text-anchor="start" >KEGG cytokine cytokine receptor interaction</text>
<text x="165.80" y="438.60" font-size="8.35" fill="#f59b3a" color="#f59b3a" text-anchor="start" >WP extrafollicular and follicular B cell activation</text>
<text x="165.80" y="447.62" font-size="8.35" fill="#1eb0ee" color="#1eb0ee" text-anchor="start" >Reactome cell cycle</text>
<text x="165.80" y="456.65" font-size="8.35" fill="#1eb0ee" color="#1eb0ee" text-anchor="start" >Reactome cell cycle checkpoints</text>
<text x="165.80" y="465.68" font-size="8.35" fill="#1eb0ee" color="#1eb0ee" text-anchor="start" >Reactome cell cycle mitotic</text>
<text x="165.80" y="474.70" font-size="8.35" fill="#7636a0" color="#7636a0" text-anchor="start" >WP glucocorticoid receptor pathway</text>
<text x="165.80" y="483.73" font-size="8.35" fill="#111111" color="#111111" text-anchor="start" >Reactome attenuation phase</text>
<text x="165.80" y="492.75" font-size="8.35" fill="#7636a0" color="#7636a0" text-anchor="start" >KEGG neuroactive ligand receptor interaction</text>
<text x="165.80" y="501.78" font-size="8.35" fill="#111111" color="#111111" text-anchor="start" >Reactome translation</text>
<text x="165.80" y="510.80" font-size="8.35" fill="#ea1e8c" color="#ea1e8c" text-anchor="start" >Reactome respiratory electron transport ATP synthesis</text>
<text x="165.80" y="519.83" font-size="8.35" fill="#111111" color="#111111" text-anchor="start" >Reactome mitochondrial translation</text>
<text x="165.80" y="528.85" font-size="8.35" fill="#111111" color="#111111" text-anchor="start" >KEGG medicus reference translation initiation</text>
<text x="165.80" y="537.88" font-size="8.35" fill="#ea1e8c" color="#ea1e8c" text-anchor="start" >KEGG nitrogen metabolism</text>
<text x="165.80" y="546.90" font-size="8.35" fill="#ea1e8c" color="#ea1e8c" text-anchor="start" >WP electron transport chain oxphos system in mitochondria</text>
<text x="165.80" y="555.92" font-size="8.35" fill="#ea1e8c" color="#ea1e8c" text-anchor="start" >Reactome metabolism of amino acids and derivatives</text>
<text x="165.80" y="564.95" font-size="8.35" fill="#1eb0ee" color="#1eb0ee" text-anchor="start" >Reactome G2 M checkpoints</text>
<text x="165.80" y="573.98" font-size="8.35" fill="#111111" color="#111111" text-anchor="start" >Reactome signaling by BMP</text>
<text x="165.80" y="583.00" font-size="8.35" fill="#111111" color="#111111" text-anchor="start" >Reactome HDMs demethylate histones</text>
<text x="165.80" y="592.02" font-size="8.35" fill="#111111" color="#111111" text-anchor="start" >Reactome circadian clock</text>
<text x="165.80" y="601.05" font-size="8.35" fill="#111111" color="#111111" text-anchor="start" >Reactome DNA repair</text>
<text x="165.80" y="610.08" font-size="8.35" fill="#ea1e8c" color="#ea1e8c" text-anchor="start" >Reactome metabolism of RNA</text>
<text x="165.80" y="619.10" font-size="8.35" fill="#f59b3a" color="#f59b3a" text-anchor="start" >Reactome immunoregulatory interactions</text>
<text x="165.80" y="628.12" font-size="8.35" fill="#111111" color="#111111" text-anchor="start" >Wp white fat cell differentiation</text>
<text x="165.80" y="637.15" font-size="8.35" fill="#111111" color="#111111" text-anchor="start" >PID integrin2 pathway</text>
<text x="165.80" y="646.17" font-size="8.35" fill="#f59b3a" color="#f59b3a" text-anchor="start" >WP overview of proinflammatory and profibrotic mediators</text>
<text x="165.80" y="655.20" font-size="8.35" fill="#111111" color="#111111" text-anchor="start" >Reactome NGF stimulated transcription</text>
<text x="165.80" y="664.23" font-size="8.35" fill="#111111" color="#111111" text-anchor="start" >WPretinoblastoma gene in cancer</text>
<text x="165.80" y="673.25" font-size="8.35" fill="#111111" color="#111111" text-anchor="start" >Reactome erythrocytes take up oxygen and release carbon dioxide</text>
<text x="165.80" y="682.28" font-size="8.35" fill="#111111" color="#111111" text-anchor="start" >KEGG medicus reference copi vesicle formation</text>
<text x="165.80" y="691.30" font-size="8.35" fill="#f59b3a" color="#f59b3a" text-anchor="start" >Reactome antigen presentationand peptide loading of class I MHC</text>
<text x="165.80" y="700.33" font-size="8.35" fill="#f59b3a" color="#f59b3a" text-anchor="start" >Reactome neutrophil degranulation</text>
<text x="165.80" y="709.35" font-size="8.35" fill="#f59b3a" color="#f59b3a" text-anchor="start" >Reactome innate immune system</text>
<text x="165.80" y="718.38" font-size="8.35" fill="#f59b3a" color="#f59b3a" text-anchor="start" >Reactome signaling by interleukins</text>
<text x="165.80" y="727.40" font-size="8.35" fill="#ea1e8c" color="#ea1e8c" text-anchor="start" >Reactome the citric acid TCA cycle and respiratory electron transport</text>
<text x="165.80" y="736.42" font-size="8.35" fill="#111111" color="#111111" text-anchor="start" >Reactome plasma lipoprotein assembly remodeling and clearance</text>
<text x="165.80" y="745.45" font-size="8.35" fill="#f59b3a" color="#f59b3a" text-anchor="start" >WP T cell modulation in pancreatic cancer</text>
<text x="165.80" y="754.48" font-size="8.35" fill="#1eb0ee" color="#1eb0ee" text-anchor="start" >Reactome mitotic prometaphase</text>
<text x="165.80" y="763.50" font-size="8.35" fill="#111111" color="#111111" text-anchor="start" >Reactome role of second messengers in netrin 1 signaling</text>
<text x="165.80" y="772.53" font-size="8.35" fill="#f59b3a" color="#f59b3a" text-anchor="start" >Reactome antigen activates B cell receptor BCR</text>
<text x="165.80" y="781.55" font-size="8.35" fill="#111111" color="#111111" text-anchor="start" >Reactome complex I biogenesis</text>
<text x="165.80" y="790.58" font-size="8.35" fill="#f59b3a" color="#f59b3a" text-anchor="start" >Reactome creation of c4 and c2 activators</text>
<text x="165.80" y="799.60" font-size="8.35" fill="#ea1e8c" color="#ea1e8c" text-anchor="start" >Reactome mitochondrial fatty acid beta oxidation</text>
<text x="165.80" y="808.62" font-size="8.35" fill="#1aa35a" color="#1aa35a" text-anchor="start" >Reactome collagen formation</text>
<text x="165.80" y="817.65" font-size="8.35" fill="#1aa35a" color="#1aa35a" text-anchor="start" >Reactome collagen degradation</text>
<text x="165.80" y="826.67" font-size="8.35" fill="#111111" color="#111111" text-anchor="start" >Reactome muscle contraction</text>
<text x="165.80" y="835.70" font-size="8.35" fill="#111111" color="#111111" text-anchor="start" >WP sudden infant death syndrome sids susceptibility pathways</text>
<text x="165.80" y="844.73" font-size="8.35" fill="#7636a0" color="#7636a0" text-anchor="start" >WP vegfa vegfr2 signaling</text>
<text x="165.80" y="853.75" font-size="8.35" fill="#111111" color="#111111" text-anchor="start" >WP miRNA regulation of DNA damage response</text>
<text x="165.80" y="862.78" font-size="8.35" fill="#111111" color="#111111" text-anchor="start" >Reactome olfactory signaling pathway</text>
<text x="165.80" y="871.80" font-size="8.35" fill="#111111" color="#111111" text-anchor="start" >Reactome membrane trafficking</text>
<text x="165.80" y="880.83" font-size="8.35" fill="#111111" color="#111111" text-anchor="start" >Reactome formation of the cornified envelope</text>
<text x="165.80" y="889.85" font-size="8.35" fill="#1aa35a" color="#1aa35a" text-anchor="start" >WP matrix metalloproteinases</text>
<text x="20.60" y="410.8" font-size="8.8" fill="#111" color="#111" transform="rotate(-45 20.60 410.8)">Tumor</text>
<text x="31.07" y="410.8" font-size="8.8" fill="#111" color="#111" transform="rotate(-45 31.07 410.8)">CD8 T</text>
<text x="41.54" y="410.8" font-size="8.8" fill="#111" color="#111" transform="rotate(-45 41.54 410.8)">CD4 T</text>
<text x="52.01" y="410.8" font-size="8.8" fill="#111" color="#111" transform="rotate(-45 52.01 410.8)">Other T</text>
<text x="62.48" y="410.8" font-size="8.8" fill="#111" color="#111" transform="rotate(-45 62.48 410.8)">Cycling T</text>
<text x="72.95" y="410.8" font-size="8.8" fill="#111" color="#111" transform="rotate(-45 72.95 410.8)">NK</text>
<text x="83.42" y="410.8" font-size="8.8" fill="#111" color="#111" transform="rotate(-45 83.42 410.8)">B</text>
<text x="93.89" y="410.8" font-size="8.8" fill="#111" color="#111" transform="rotate(-45 93.89 410.8)">Mono/Macro</text>
<text x="104.36" y="410.8" font-size="8.8" fill="#111" color="#111" transform="rotate(-45 104.36 410.8)">cDC</text>
<text x="114.83" y="410.8" font-size="8.8" fill="#111" color="#111" transform="rotate(-45 114.83 410.8)">pDC</text>
<text x="125.30" y="410.8" font-size="8.8" fill="#111" color="#111" transform="rotate(-45 125.30 410.8)">Mast</text>
<text x="135.77" y="410.8" font-size="8.8" fill="#111" color="#111" transform="rotate(-45 135.77 410.8)">Endothelial</text>
<text x="146.24" y="410.8" font-size="8.8" fill="#111" color="#111" transform="rotate(-45 146.24 410.8)">Fibroblast</text>
<text x="156.71" y="410.8" font-size="8.8" fill="#111" color="#111" transform="rotate(-45 156.71 410.8)">Keratinocyte</text>
<defs><linearGradient id="nesg" x1="0" y1="0" x2="0" y2="1"><stop offset="0" stop-color="#e8352b"/><stop offset="0.25" stop-color="#f5a58c"/><stop offset="0.5" stop-color="#ffffff"/><stop offset="0.75" stop-color="#a590ca"/><stop offset="1" stop-color="#3f4fa8"/></linearGradient></defs>
<text x="381.00" y="401.00" font-size="9.2" fill="#111" color="#111" text-anchor="start" >NES</text>
<rect x="380.3" y="405.2" width="9.5" height="45.9" fill="url(#nesg)"/>
<line x1="380.3" y1="406.2" x2="382.0" y2="406.2" stroke="#fff" stroke-width="0.5"/><line x1="388.1" y1="406.2" x2="389.8" y2="406.2" stroke="#fff" stroke-width="0.5"/>
<text x="391.70" y="408.60" font-size="6.8" fill="#222" color="#222" text-anchor="start" >6</text>
<line x1="380.3" y1="416.7" x2="382.0" y2="416.7" stroke="#fff" stroke-width="0.5"/><line x1="388.1" y1="416.7" x2="389.8" y2="416.7" stroke="#fff" stroke-width="0.5"/>
<text x="391.70" y="419.10" font-size="6.8" fill="#222" color="#222" text-anchor="start" >3</text>
<line x1="380.3" y1="427.5" x2="382.0" y2="427.5" stroke="#fff" stroke-width="0.5"/><line x1="388.1" y1="427.5" x2="389.8" y2="427.5" stroke="#fff" stroke-width="0.5"/>
<text x="391.70" y="429.90" font-size="6.8" fill="#222" color="#222" text-anchor="start" >0</text>
<line x1="380.3" y1="438.2" x2="382.0" y2="438.2" stroke="#fff" stroke-width="0.5"/><line x1="388.1" y1="438.2" x2="389.8" y2="438.2" stroke="#fff" stroke-width="0.5"/>
<text x="391.70" y="440.60" font-size="6.8" fill="#222" color="#222" text-anchor="start" >−3</text>
<line x1="380.3" y1="448.6" x2="382.0" y2="448.6" stroke="#fff" stroke-width="0.5"/><line x1="388.1" y1="448.6" x2="389.8" y2="448.6" stroke="#fff" stroke-width="0.5"/>
<text x="391.70" y="451.00" font-size="6.8" fill="#222" color="#222" text-anchor="start" >−6</text>
<text x="381.20" y="465.80" font-size="9.2" fill="#111" color="#111" text-anchor="start" >Ln(# of</text>
<text x="381.20" y="476.70" font-size="9.2" fill="#111" color="#111" text-anchor="start" >overlapping</text>
<text x="381.20" y="487.60" font-size="9.2" fill="#111" color="#111" text-anchor="start" >genes)</text>
<circle cx="386.4" cy="496.1" r="1.7" fill="#000"/>
<text x="393.00" y="498.50" font-size="6.6" fill="#222" color="#222" text-anchor="start" >2</text>
<circle cx="386.4" cy="504.4" r="2.3" fill="#000"/>
<text x="393.00" y="506.80" font-size="6.6" fill="#222" color="#222" text-anchor="start" >3</text>
<circle cx="386.4" cy="512.4" r="2.7" fill="#000"/>
<text x="393.00" y="514.80" font-size="6.6" fill="#222" color="#222" text-anchor="start" >4</text>
<circle cx="386.4" cy="520.1" r="3.05" fill="#000"/>
<text x="393.00" y="522.50" font-size="6.6" fill="#222" color="#222" text-anchor="start" >5</text>
<circle cx="386.4" cy="528.4" r="3.4" fill="#000"/>
<text x="393.00" y="530.80" font-size="6.6" fill="#222" color="#222" text-anchor="start" >6</text>
<text x="382.60" y="556.80" font-size="9.2" fill="#111" color="#111" text-anchor="start" >Pathway groups</text>
<text x="382.60" y="567.30" font-size="9.2" fill="#1aa35a" color="#1aa35a" text-anchor="start" >ECM</text>
<text x="382.60" y="577.70" font-size="9.2" fill="#1eb0ee" color="#1eb0ee" text-anchor="start" >Cell cycle</text>
<text x="382.60" y="588.10" font-size="9.2" fill="#7636a0" color="#7636a0" text-anchor="start" >Growth factor</text>
<text x="382.60" y="598.50" font-size="9.2" fill="#ea1e8c" color="#ea1e8c" text-anchor="start" >Metabolism</text>
<text x="382.60" y="608.90" font-size="9.2" fill="#f59b3a" color="#f59b3a" text-anchor="start" >Immune</text>
</svg></body></html>
